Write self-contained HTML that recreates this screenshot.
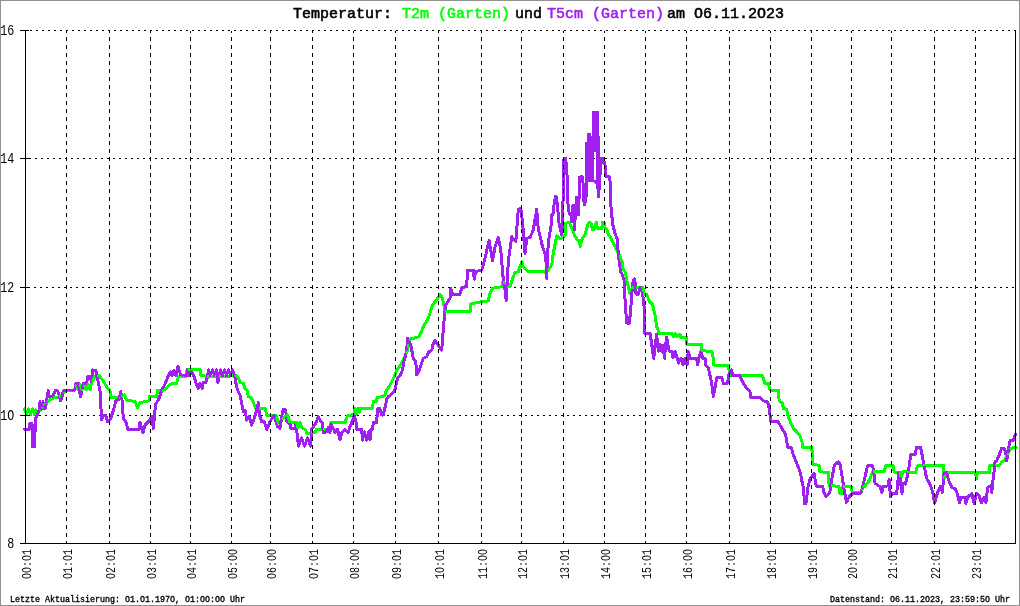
<!DOCTYPE html><html><head><meta charset="utf-8"><style>html,body{margin:0;padding:0;background:#fff;overflow:hidden}svg{display:block;will-change:transform}</style></head><body><svg width="1020" height="606" viewBox="0 0 1020 606">
<rect x="0" y="0" width="1020" height="606" fill="#fff"/>
<rect x="0.5" y="0.5" width="1019" height="605" fill="none" stroke="#919191" stroke-width="1"/>
<g shape-rendering="crispEdges">
<line x1="26" y1="30.5" x2="1015" y2="30.5" stroke="#000" stroke-width="1" stroke-dasharray="2 4" stroke-dashoffset="2"/>
<line x1="26" y1="158.5" x2="1015" y2="158.5" stroke="#000" stroke-width="1" stroke-dasharray="2 4" stroke-dashoffset="3"/>
<line x1="26" y1="287.5" x2="1015" y2="287.5" stroke="#000" stroke-width="1" stroke-dasharray="2 4" stroke-dashoffset="4"/>
<line x1="26" y1="415.5" x2="1015" y2="415.5" stroke="#000" stroke-width="1" stroke-dasharray="2 4" stroke-dashoffset="5"/>
</g>
<g fill="none" stroke-width="3" stroke-linejoin="round" stroke-linecap="round" shape-rendering="crispEdges">
<path stroke="#00ff00" d="M24.5 409L25.5 411.8L26.5 414.5"/>
<path stroke="#a020f0" d="M24.2 429.2L25.2 429.2L26.2 429.2"/>
<path stroke="#00ff00" d="M26.5 414.5L27.5 411.6L28.5 408.8"/>
<path stroke="#a020f0" d="M26.2 429.2L27.2 429.2L28.2 429.2"/>
<path stroke="#00ff00" d="M28.5 408.8L29.5 411.6L30.5 414.5"/>
<path stroke="#a020f0" d="M28.2 429.2L29.2 429.2L29.5 428.8L30 423"/>
<path stroke="#00ff00" d="M30.5 414.5L31.5 411.6L32.5 408.8"/>
<path stroke="#a020f0" d="M30 423L31 423L32 423"/>
<path stroke="#00ff00" d="M32.5 408.8L33.5 411.6L34.5 414.5"/>
<path stroke="#a020f0" d="M32 423L32.5 446.5L33.5 446.5L34.5 446.5"/>
<path stroke="#00ff00" d="M34.5 414.5L35.5 410L36.1 412.5"/>
<path stroke="#a020f0" d="M34.5 446.5L35.5 418.3L36.5 416.6"/>
<path stroke="#00ff00" d="M36.1 412.5L36.7 415L37.7 413.7L38.7 412.3"/>
<path stroke="#a020f0" d="M36.5 416.6L37.5 415L38.4 412.5"/>
<path stroke="#00ff00" d="M38.7 412.3L39.7 411L40.7 409.6"/>
<path stroke="#a020f0" d="M38.4 412.5L39.2 410L40 401.7"/>
<path stroke="#00ff00" d="M40.7 409.6L41.7 408.3L42.7 407.2"/>
<path stroke="#a020f0" d="M40 401.7L40.8 405.4L41.5 409L42.2 405.4"/>
<path stroke="#00ff00" d="M42.7 407.2L43.6 406.1L44.6 405"/>
<path stroke="#a020f0" d="M42.2 405.4L43 401.7L43.8 405L44.5 408.3"/>
<path stroke="#00ff00" d="M44.6 405L45.6 403.9L46.5 402.8"/>
<path stroke="#a020f0" d="M44.5 408.3L45.5 408L46.5 401.5"/>
<path stroke="#00ff00" d="M46.5 402.8L47.5 401.7L48.3 401.1"/>
<path stroke="#a020f0" d="M46.5 401.5L47.5 395L48.3 390.8"/>
<path stroke="#00ff00" d="M48.3 401.1L49.2 400.6L50 400"/>
<path stroke="#a020f0" d="M48.3 390.8L49.2 396.7L50 396.5"/>
<path stroke="#00ff00" d="M50 400L50.8 399.4L51.7 398.9L52.5 398.3"/>
<path stroke="#a020f0" d="M50 396.5L50.8 396.3L51.7 396.2L52.5 396"/>
<path stroke="#00ff00" d="M52.5 398.3L53.3 398L54.2 397.8"/>
<path stroke="#a020f0" d="M52.5 396L53.3 395.8L54.1 393.3"/>
<path stroke="#00ff00" d="M54.2 397.8L55 397.5L55.8 397.5L56.7 397.5"/>
<path stroke="#a020f0" d="M54.1 393.3L55 390.8L55.8 390.8L56.7 390.8"/>
<path stroke="#00ff00" d="M56.7 397.5L57.5 397.5L58.4 397.5"/>
<path stroke="#a020f0" d="M56.7 390.8L57.5 390.8L58.4 393.3"/>
<path stroke="#00ff00" d="M58.4 397.5L59.2 397.5L60 396.7"/>
<path stroke="#a020f0" d="M58.4 393.3L59.2 395.8L59.8 398.3L60.4 400.8"/>
<path stroke="#00ff00" d="M60 396.7L60.8 395.8L61.7 395L62.5 394.1"/>
<path stroke="#a020f0" d="M60.4 400.8L61 399.6L61.7 398.3L62.5 394.6"/>
<path stroke="#00ff00" d="M62.5 394.1L63.3 393.3L64.2 392.1"/>
<path stroke="#a020f0" d="M62.5 394.6L63.3 390.8L64.2 390.6"/>
<path stroke="#00ff00" d="M64.2 392.1L65 390.8L65.9 390.8L66.8 390.8"/>
<path stroke="#a020f0" d="M64.2 390.6L65 390.4L65.8 390.2L66.7 390"/>
<path stroke="#00ff00" d="M66.8 390.8L67.8 390.8L68.7 390.8"/>
<path stroke="#a020f0" d="M66.7 390L67.6 390L68.5 390"/>
<path stroke="#00ff00" d="M68.7 390.8L69.6 390.8L70.5 390.8"/>
<path stroke="#a020f0" d="M68.5 390L69.5 390L70.4 390"/>
<path stroke="#00ff00" d="M70.5 390.8L71.4 390.8L72.4 390.8"/>
<path stroke="#a020f0" d="M70.4 390L71.3 390L72.2 390"/>
<path stroke="#00ff00" d="M72.4 390.8L73.3 390.8L74.2 390.8"/>
<path stroke="#a020f0" d="M72.2 390L73.2 390L74.1 390"/>
<path stroke="#00ff00" d="M74.2 390.8L75.1 387.4L76 384"/>
<path stroke="#a020f0" d="M74.1 390L75 390L75.8 383.3L76.6 383.3"/>
<path stroke="#00ff00" d="M76 384L77 387L78 390"/>
<path stroke="#a020f0" d="M76.6 383.3L77.5 383.3L78.3 383.3"/>
<path stroke="#00ff00" d="M78 390L79 387L80 384"/>
<path stroke="#a020f0" d="M78.3 383.3L79 387.8L79.7 392.2L80.4 396.7"/>
<path stroke="#00ff00" d="M80 384L81 387L82 390"/>
<path stroke="#a020f0" d="M80.4 396.7L81.1 394.2L81.7 391.7L82.5 387.5"/>
<path stroke="#00ff00" d="M82 390L83 387L84 384"/>
<path stroke="#a020f0" d="M82.5 387.5L83.3 383.3L84.2 383.3"/>
<path stroke="#00ff00" d="M84 384L85 387L86 390"/>
<path stroke="#a020f0" d="M84.2 383.3L85 383.3L85.8 383.3L86.7 383.3"/>
<path stroke="#00ff00" d="M86 390L87 387L88 384"/>
<path stroke="#a020f0" d="M86.7 383.3L87.5 376.7L88.3 376.7"/>
<path stroke="#00ff00" d="M88 384L89 387L90 390"/>
<path stroke="#a020f0" d="M88.3 376.7L89.2 376.7L90 376.7"/>
<path stroke="#00ff00" d="M90 390L90.8 386.2L91.7 382.5L92.5 381.1"/>
<path stroke="#a020f0" d="M90 376.7L90.8 379.2L91.7 381.7L92.5 370"/>
<path stroke="#00ff00" d="M92.5 381.1L93.3 379.6L94.2 378.1"/>
<path stroke="#a020f0" d="M92.5 370L93.3 370L94.2 370"/>
<path stroke="#00ff00" d="M94.2 378.1L95 376.7L95.8 376.5L96.7 376.3"/>
<path stroke="#a020f0" d="M94.2 370L95 370L95.8 370L96.7 375.8"/>
<path stroke="#00ff00" d="M96.7 376.3L97.5 376.2L98.4 376"/>
<path stroke="#a020f0" d="M96.7 375.8L97.5 379.1L98.3 382.5"/>
<path stroke="#00ff00" d="M98.4 376L99.2 375.8L100 376.9"/>
<path stroke="#a020f0" d="M98.3 382.5L99.2 386.6L100 390.8"/>
<path stroke="#00ff00" d="M100 376.9L100.8 377.9L101.7 378.9L102.5 380"/>
<path stroke="#a020f0" d="M100 390.8L100.8 405.4L101.7 420L102.5 417.5"/>
<path stroke="#00ff00" d="M102.5 380L103.3 381.3L104.2 382.7"/>
<path stroke="#a020f0" d="M102.5 417.5L103.3 415L104.1 415"/>
<path stroke="#00ff00" d="M104.2 382.7L105 384L105.9 385.4L106.7 386.7"/>
<path stroke="#a020f0" d="M104.1 415L105 415L105.8 415L106.7 418.4"/>
<path stroke="#00ff00" d="M106.7 386.7L107.5 387.7L108.3 388.8"/>
<path stroke="#a020f0" d="M106.7 418.4L107.5 421.7L108.3 421.1"/>
<path stroke="#00ff00" d="M108.3 388.8L109.2 389.8L110 390.8"/>
<path stroke="#a020f0" d="M108.3 421.1L109.2 420.6L110 420"/>
<path stroke="#00ff00" d="M110 390.8L110.8 397.5L111.7 397.5L112.6 397.5"/>
<path stroke="#a020f0" d="M110 420L110.8 417.8L111.7 415.5L112.5 413.3"/>
<path stroke="#00ff00" d="M112.6 397.5L113.6 397.5L114.5 397.5"/>
<path stroke="#a020f0" d="M112.5 413.3L113.3 410.2L114.2 407.1"/>
<path stroke="#00ff00" d="M114.5 397.5L115.4 397.5L116.3 397.5"/>
<path stroke="#a020f0" d="M114.2 407.1L115 403.9L115.8 400.8L116.7 400.4"/>
<path stroke="#00ff00" d="M116.3 397.5L117.2 397.5L118.2 397.5"/>
<path stroke="#a020f0" d="M116.7 400.4L117.5 400L118.3 399.6"/>
<path stroke="#00ff00" d="M118.2 397.5L119.1 397.5L120 397.5"/>
<path stroke="#a020f0" d="M118.3 399.6L119.2 399.2L120 395.4"/>
<path stroke="#00ff00" d="M120 397.5L120.8 397L121.7 396.5L122.5 396"/>
<path stroke="#a020f0" d="M120 395.4L120.8 391.7L121.4 395.9L122 400"/>
<path stroke="#00ff00" d="M122.5 396L123.4 395.5L124.2 395"/>
<path stroke="#a020f0" d="M122 400L122.7 409.1L123.3 418.3L124.2 419.6"/>
<path stroke="#00ff00" d="M124.2 395L125 396.7L125.9 398.3L126.7 400"/>
<path stroke="#a020f0" d="M124.2 419.6L125 420.8L125.8 422.1L126.7 423.3"/>
<path stroke="#00ff00" d="M126.7 400L127.6 400.2L128.5 400.4"/>
<path stroke="#a020f0" d="M126.7 423.3L127.5 429.2L128.5 429.2"/>
<path stroke="#00ff00" d="M128.5 400.4L129.5 400.6L130.4 400.8"/>
<path stroke="#a020f0" d="M128.5 429.2L129.4 429.2L130.4 429.2"/>
<path stroke="#00ff00" d="M130.4 400.8L131.3 400.9L132.2 401.1"/>
<path stroke="#a020f0" d="M130.4 429.2L131.4 429.2L132.4 429.2"/>
<path stroke="#00ff00" d="M132.2 401.1L133.2 401.3L134.1 401.5"/>
<path stroke="#a020f0" d="M132.4 429.2L133.3 429.2L134.3 429.2"/>
<path stroke="#00ff00" d="M134.1 401.5L135 401.7L135.8 403.6L136.7 405.6"/>
<path stroke="#a020f0" d="M134.3 429.2L135.3 429.2L136.3 429.2"/>
<path stroke="#00ff00" d="M136.7 405.6L137.5 407.5L138.3 405.8"/>
<path stroke="#a020f0" d="M136.3 429.2L137.2 429.2L138.2 429.2"/>
<path stroke="#00ff00" d="M138.3 405.8L139.2 404.2L140 402.5"/>
<path stroke="#a020f0" d="M138.2 429.2L139.2 429.2L140 422.5"/>
<path stroke="#00ff00" d="M140 402.5L140.9 402.3L141.8 402.2L142.8 402"/>
<path stroke="#a020f0" d="M140 422.5L141 425.8L142 429.2"/>
<path stroke="#00ff00" d="M142.8 402L143.7 401.8L144.6 401.6"/>
<path stroke="#a020f0" d="M142 429.2L143 432.5L144 428.8"/>
<path stroke="#00ff00" d="M144.6 401.6L145.5 401.5L146.4 401.3"/>
<path stroke="#a020f0" d="M144 428.8L145 425L145.8 424.2L146.7 423.4"/>
<path stroke="#00ff00" d="M146.4 401.3L147.4 401.1L148.3 401"/>
<path stroke="#a020f0" d="M146.7 423.4L147.5 422.5L148.3 421.7"/>
<path stroke="#00ff00" d="M148.3 401L149.2 400.8L149.2 396.7L150.1 396.7"/>
<path stroke="#a020f0" d="M148.3 421.7L149.2 420.4L150 419.2"/>
<path stroke="#00ff00" d="M150.1 396.7L151.1 396.7L152 396.7"/>
<path stroke="#a020f0" d="M150 419.2L150.8 417.9L151.7 416.7L152.5 422.5"/>
<path stroke="#00ff00" d="M152 396.7L152.9 396.7L153.9 396.7L154.8 396.7"/>
<path stroke="#a020f0" d="M152.5 422.5L153.3 428.3L154.2 419.1"/>
<path stroke="#00ff00" d="M154.8 396.7L155.8 396.7L156.7 396.7"/>
<path stroke="#a020f0" d="M154.2 419.1L155 410L155.8 404.2L156.7 402.7"/>
<path stroke="#00ff00" d="M156.7 396.7L157.5 390L158.5 390"/>
<path stroke="#a020f0" d="M156.7 402.7L157.5 401.2L158.3 399.8"/>
<path stroke="#00ff00" d="M158.5 390L159.4 390L160.4 390"/>
<path stroke="#a020f0" d="M158.3 399.8L159.2 398.3L160 395.5"/>
<path stroke="#00ff00" d="M160.4 390L161.3 390L162.3 390"/>
<path stroke="#a020f0" d="M160 395.5L160.9 392.8L161.7 390L162.5 388.6"/>
<path stroke="#00ff00" d="M162.3 390L163.2 390L164.2 390"/>
<path stroke="#a020f0" d="M162.5 388.6L163.3 387.1L164.2 385.6"/>
<path stroke="#00ff00" d="M164.2 390L165.2 389L166.1 388.1"/>
<path stroke="#a020f0" d="M164.2 385.6L165 384.2L165.8 382L166.7 379.7"/>
<path stroke="#00ff00" d="M166.1 388.1L167.1 387.1L168.1 386.1"/>
<path stroke="#a020f0" d="M166.7 379.7L167.5 377.5L168.5 375.7"/>
<path stroke="#00ff00" d="M168.1 386.1L169 385.2L170 384.2"/>
<path stroke="#a020f0" d="M168.5 375.7L169.5 373.8L170.5 372"/>
<path stroke="#00ff00" d="M170 384.2L171 384.1L171.9 383.9L172.9 383.8"/>
<path stroke="#a020f0" d="M170.5 372L171.2 374L172 376"/>
<path stroke="#00ff00" d="M172.9 383.8L173.8 383.7L174.8 383.6"/>
<path stroke="#a020f0" d="M172 376L173 373L174 370"/>
<path stroke="#00ff00" d="M174.8 383.6L175.7 383.4L176.7 383.3"/>
<path stroke="#a020f0" d="M174 370L175 373L176 376"/>
<path stroke="#00ff00" d="M176.7 383.3L177.5 380L178.3 376.7"/>
<path stroke="#a020f0" d="M176 376L176.9 371L177.9 366L178.4 368"/>
<path stroke="#00ff00" d="M178.3 376.7L179.2 376.6L180.2 376.5"/>
<path stroke="#a020f0" d="M178.4 368L179 370L179.9 372.5L180.8 375"/>
<path stroke="#00ff00" d="M180.2 376.5L181.1 376.5L182 376.4"/>
<path stroke="#a020f0" d="M180.8 375L181.8 375.1L182.8 375.3"/>
<path stroke="#00ff00" d="M182 376.4L183 376.3L183.9 376.2L184.8 376.2"/>
<path stroke="#a020f0" d="M182.8 375.3L183.8 375.4L184.7 375.5"/>
<path stroke="#00ff00" d="M184.8 376.2L185.8 376.1L186.7 376"/>
<path stroke="#a020f0" d="M184.7 375.5L185.7 375.7L186.7 375.8"/>
<path stroke="#00ff00" d="M186.7 376L187 369.6L187.9 369.5L188.9 369.4"/>
<path stroke="#a020f0" d="M186.7 375.8L187.5 369.6L188.3 372.7"/>
<path stroke="#00ff00" d="M188.9 369.4L189.9 369.3L190.8 369.2"/>
<path stroke="#a020f0" d="M188.3 372.7L189.2 375.8L190 374.4"/>
<path stroke="#00ff00" d="M190.8 369.2L191.7 369.2L192.6 369.2"/>
<path stroke="#a020f0" d="M190 374.4L190.9 373.1L191.7 371.7L192.5 373.4"/>
<path stroke="#00ff00" d="M192.6 369.2L193.6 369.2L194.5 369.2"/>
<path stroke="#a020f0" d="M192.5 373.4L193.4 375L194.2 376.7"/>
<path stroke="#00ff00" d="M194.5 369.2L195.4 369.2L196.3 369.2"/>
<path stroke="#a020f0" d="M194.2 376.7L195 379.6L195.8 382.5L196.6 384.4"/>
<path stroke="#00ff00" d="M196.3 369.2L197.2 369.2L198.2 369.2"/>
<path stroke="#a020f0" d="M196.6 384.4L197.5 386.4L198.3 388.3"/>
<path stroke="#00ff00" d="M198.2 369.2L199.1 369.2L200 369.2"/>
<path stroke="#a020f0" d="M198.3 388.3L199.2 385.8L200 383.3"/>
<path stroke="#00ff00" d="M200 369.2L200.8 375.8L201.7 375.8L202.5 375.8"/>
<path stroke="#a020f0" d="M200 383.3L200.7 385L201.4 386.6L202.1 388.3"/>
<path stroke="#00ff00" d="M202.5 375.8L203.3 375.8L204.2 375.8"/>
<path stroke="#a020f0" d="M202.1 388.3L202.7 385.4L203.3 382.5L204.1 382.5"/>
<path stroke="#00ff00" d="M204.2 375.8L205.2 376L206.2 376.2"/>
<path stroke="#a020f0" d="M204.1 382.5L205 382.5L205.8 382.5L206.7 379.6"/>
<path stroke="#00ff00" d="M206.2 376.2L207.2 376.3L208.2 376.5"/>
<path stroke="#a020f0" d="M206.7 379.6L207.5 376.7L208.5 370"/>
<path stroke="#00ff00" d="M208.2 376.5L209.2 376.7L210.2 376.7"/>
<path stroke="#a020f0" d="M208.5 370L209.5 372.8L210.5 375.5"/>
<path stroke="#00ff00" d="M210.2 376.7L211.2 376.6L212.2 376.6"/>
<path stroke="#a020f0" d="M210.5 375.5L211.5 372.8L212.5 370"/>
<path stroke="#00ff00" d="M212.2 376.6L213.1 376.6L214.1 376.5"/>
<path stroke="#a020f0" d="M212.5 370L213.5 372.8L214.5 375.5"/>
<path stroke="#00ff00" d="M214.1 376.5L215.1 376.5L216.1 376.5"/>
<path stroke="#a020f0" d="M214.5 375.5L215.5 372.8L216.5 370"/>
<path stroke="#00ff00" d="M216.1 376.5L217.1 376.4L218.1 376.4"/>
<path stroke="#a020f0" d="M216.5 370L217.2 376.2L217.9 382.5L218.4 379"/>
<path stroke="#00ff00" d="M218.1 376.4L219.1 376.4L220 376.3"/>
<path stroke="#a020f0" d="M218.4 379L219 375.5L219.8 372.8L220.5 370"/>
<path stroke="#00ff00" d="M220 376.3L221 376.3L222 376.3"/>
<path stroke="#a020f0" d="M220.5 370L221.5 372.8L222.5 375.5"/>
<path stroke="#00ff00" d="M222 376.3L223 376.2L224 376.2L225 376.2"/>
<path stroke="#a020f0" d="M222.5 375.5L223.5 372.8L224.5 370"/>
<path stroke="#00ff00" d="M225 376.2L225.9 376.1L226.9 376.1"/>
<path stroke="#a020f0" d="M224.5 370L225.5 372.8L226.5 375.5"/>
<path stroke="#00ff00" d="M226.9 376.1L227.9 376.1L228.9 376"/>
<path stroke="#a020f0" d="M226.5 375.5L227.5 372.8L228.5 370"/>
<path stroke="#00ff00" d="M228.9 376L229.9 376L230.9 376"/>
<path stroke="#a020f0" d="M228.5 370L229.5 372.8L230.5 375.5"/>
<path stroke="#00ff00" d="M230.9 376L231.9 375.9L232.8 375.9"/>
<path stroke="#a020f0" d="M230.5 375.5L231.5 372.8L232.5 370"/>
<path stroke="#00ff00" d="M232.8 375.9L233.8 375.9L234.8 375.8"/>
<path stroke="#a020f0" d="M232.5 370L233.5 372.8L234.5 375.5"/>
<path stroke="#00ff00" d="M234.8 375.8L235.8 375.8L236.6 376.4"/>
<path stroke="#a020f0" d="M234.5 375.5L235.2 379L235.8 382.5L236.7 386.2"/>
<path stroke="#00ff00" d="M236.6 376.4L237.5 376.9L238.3 377.5"/>
<path stroke="#a020f0" d="M236.7 386.2L237.5 390L238.3 391.7"/>
<path stroke="#00ff00" d="M238.3 377.5L239.2 380L240 382.5"/>
<path stroke="#a020f0" d="M238.3 391.7L239.2 393.3L240 395"/>
<path stroke="#00ff00" d="M240 382.5L240.8 382.7L241.7 382.9L242.5 383.1"/>
<path stroke="#a020f0" d="M240 395L240.8 399.1L241.7 403.3L242.5 407.5"/>
<path stroke="#00ff00" d="M242.5 383.1L243.3 383.3L244.2 385.8"/>
<path stroke="#a020f0" d="M242.5 407.5L243.3 411.7L244.2 410.9"/>
<path stroke="#00ff00" d="M244.2 385.8L245 388.3L245.8 389.1L246.7 390"/>
<path stroke="#a020f0" d="M244.2 410.9L245 410L245.8 415L246.7 420"/>
<path stroke="#00ff00" d="M246.7 390L247.5 390.8L248.3 396.7"/>
<path stroke="#a020f0" d="M246.7 420L247.5 418.9L248.4 417.8"/>
<path stroke="#00ff00" d="M248.3 396.7L249.1 397L250 397.2L250.8 397.5"/>
<path stroke="#a020f0" d="M248.4 417.8L249.2 416.7L250 419.5"/>
<path stroke="#00ff00" d="M250.8 397.5L251.6 398.9L252.5 400.3"/>
<path stroke="#a020f0" d="M250 419.5L250.9 422.2L251.7 425L252.5 422.8"/>
<path stroke="#00ff00" d="M252.5 400.3L253.3 401.7L254.2 405"/>
<path stroke="#a020f0" d="M252.5 422.8L253.4 420.5L254.2 418.3"/>
<path stroke="#00ff00" d="M254.2 405L254.8 406.6L255.5 408.3L256.4 408.3"/>
<path stroke="#a020f0" d="M254.2 418.3L255 415.5L255.9 412.8L256.7 410"/>
<path stroke="#00ff00" d="M256.4 408.3L257.4 408.3L258.4 408.3"/>
<path stroke="#a020f0" d="M256.7 410L257.5 406.2L258.3 402.5"/>
<path stroke="#00ff00" d="M258.4 408.3L259.3 408.3L260.2 408.3"/>
<path stroke="#a020f0" d="M258.3 402.5L259.1 409.6L260 416.7"/>
<path stroke="#00ff00" d="M260.2 408.3L261.2 408.3L262.1 408.3"/>
<path stroke="#a020f0" d="M260 416.7L260.9 419.2L261.7 421.7L262.5 421.7"/>
<path stroke="#00ff00" d="M262.1 408.3L263.1 408.3L264.1 408.3"/>
<path stroke="#a020f0" d="M262.5 421.7L263.4 421.7L264.2 421.7"/>
<path stroke="#00ff00" d="M264.1 408.3L265 408.3L265.9 411.6L266.7 415"/>
<path stroke="#a020f0" d="M264.2 421.7L265 424.2L265.9 426.7L266.7 429.2"/>
<path stroke="#00ff00" d="M266.7 415L267.6 415L268.5 415"/>
<path stroke="#a020f0" d="M266.7 429.2L267.5 427.3L268.4 425.4"/>
<path stroke="#00ff00" d="M268.5 415L269.4 415L270.3 415"/>
<path stroke="#a020f0" d="M268.4 425.4L269.2 423.6L270 421.7"/>
<path stroke="#00ff00" d="M270.3 415L271.2 415L272.2 415"/>
<path stroke="#a020f0" d="M270 421.7L270.8 420.3L271.7 418.9L272.5 417.5"/>
<path stroke="#00ff00" d="M272.2 415L273.1 415L274 415L274.9 415"/>
<path stroke="#a020f0" d="M272.5 417.5L273.4 416.6L274.2 415.8"/>
<path stroke="#00ff00" d="M274.9 415L275.8 415L276.6 417.5"/>
<path stroke="#a020f0" d="M274.2 415.8L275 418.5L275.9 421.2L276.7 424"/>
<path stroke="#00ff00" d="M276.6 417.5L277.5 420L278.3 422.5"/>
<path stroke="#a020f0" d="M276.7 424L277.5 426.7L278.3 427.2"/>
<path stroke="#00ff00" d="M278.3 422.5L279.2 421.8L280.1 421"/>
<path stroke="#a020f0" d="M278.3 427.2L279.2 427.8L280 428.3"/>
<path stroke="#00ff00" d="M280.1 421L281.1 420.2L282 419.5L282.9 418.8"/>
<path stroke="#a020f0" d="M280 428.3L280.9 422.5L281.7 416.7L282.5 412.9"/>
<path stroke="#00ff00" d="M282.9 418.8L283.8 418L284.7 417.2"/>
<path stroke="#a020f0" d="M282.5 412.9L283.3 409.2L284.1 409.5"/>
<path stroke="#00ff00" d="M284.7 417.2L285.7 416.5L286.6 415.8"/>
<path stroke="#a020f0" d="M284.1 409.5L285 409.7L285.8 410L286.7 420.8"/>
<path stroke="#00ff00" d="M286.6 415.8L287.5 415L288.4 417.9"/>
<path stroke="#a020f0" d="M286.7 420.8L287.3 421.6L287.9 422.5L288.6 423.1"/>
<path stroke="#00ff00" d="M288.4 417.9L289.2 420.8L290 422.5"/>
<path stroke="#a020f0" d="M288.6 423.1L289.3 423.6L290 424.2"/>
<path stroke="#00ff00" d="M290 422.5L291 422.5L291.9 422.5L292.9 422.5"/>
<path stroke="#a020f0" d="M290 424.2L290.8 428.3L291.6 428.3L292.5 428.3"/>
<path stroke="#00ff00" d="M292.9 422.5L293.8 422.5L294.8 422.5"/>
<path stroke="#a020f0" d="M292.5 428.3L293.3 428.3L294.2 428.3"/>
<path stroke="#00ff00" d="M294.8 422.5L295.7 422.5L296.7 422.5"/>
<path stroke="#a020f0" d="M294.2 428.3L295 428.3L295.8 423.3L296.7 430.8"/>
<path stroke="#00ff00" d="M296.7 422.5L297.4 425.2L298 428"/>
<path stroke="#a020f0" d="M296.7 430.8L297.6 438.4L298.5 446"/>
<path stroke="#00ff00" d="M298 428L299 425.2L300 422.5"/>
<path stroke="#a020f0" d="M298.5 446L299.5 443.3L300.5 440.7"/>
<path stroke="#00ff00" d="M300 422.5L301 425.2L302 428"/>
<path stroke="#a020f0" d="M300.5 440.7L301.5 438L302.5 440.7"/>
<path stroke="#00ff00" d="M302 428L302.5 428.3L303.3 428.7L304.1 429.1"/>
<path stroke="#a020f0" d="M302.5 440.7L303.5 443.3L304.5 446"/>
<path stroke="#00ff00" d="M304.1 429.1L305 429.6L305.8 430L306.7 433.3"/>
<path stroke="#a020f0" d="M304.5 446L305.5 443.3L306.5 440.7"/>
<path stroke="#00ff00" d="M306.7 433.3L307.5 433.3L308.4 433.3"/>
<path stroke="#a020f0" d="M306.5 440.7L307.5 438L308.5 440.7"/>
<path stroke="#00ff00" d="M308.4 433.3L309.2 433.3L310 433.3"/>
<path stroke="#a020f0" d="M308.5 440.7L309.5 443.3L310.5 446"/>
<path stroke="#00ff00" d="M310 433.3L310.9 432.9L311.7 432.5L312.5 432.5"/>
<path stroke="#a020f0" d="M310.5 446L311.2 437.5L311.7 429.2L312.5 428"/>
<path stroke="#00ff00" d="M312.5 432.5L313.4 432.5L314.2 432.5"/>
<path stroke="#a020f0" d="M312.5 428L313.3 426.8L314.2 425.7"/>
<path stroke="#00ff00" d="M314.2 432.5L315 432.5L315.9 430.9L316.7 429.2"/>
<path stroke="#a020f0" d="M314.2 425.7L315 424.5L315.8 423.3L316.6 421.1"/>
<path stroke="#00ff00" d="M316.7 429.2L317.6 429.2L318.6 429.2"/>
<path stroke="#a020f0" d="M316.6 421.1L317.5 418.9L318.3 416.7"/>
<path stroke="#00ff00" d="M318.6 429.2L319.6 429.2L320.5 429.2"/>
<path stroke="#a020f0" d="M318.3 416.7L319.1 418.4L320 420"/>
<path stroke="#00ff00" d="M320.5 429.2L321.4 429.2L322.4 429.2"/>
<path stroke="#a020f0" d="M320 420L320.8 421.1L321.7 422.2L322.5 423.3"/>
<path stroke="#00ff00" d="M322.4 429.2L323.4 429.2L324.3 429.2"/>
<path stroke="#a020f0" d="M322.5 423.3L323.3 432.5L324.1 432.3"/>
<path stroke="#00ff00" d="M324.3 429.2L325.2 429.2L326.2 429.2"/>
<path stroke="#a020f0" d="M324.1 432.3L325 432.1L325.9 431.9L326.7 431.7"/>
<path stroke="#00ff00" d="M326.2 429.2L327.1 429.2L328.1 429.2"/>
<path stroke="#a020f0" d="M326.7 431.7L327.5 429.6L328.3 427.5"/>
<path stroke="#00ff00" d="M328.1 429.2L329.1 429.2L330 429.2"/>
<path stroke="#a020f0" d="M328.3 427.5L329.1 430L330 432.5"/>
<path stroke="#00ff00" d="M330 429.2L330.8 422.5L331.7 422.5L332.7 422.5"/>
<path stroke="#a020f0" d="M330 432.5L330.8 424.2L331.6 425.4L332.5 426.7"/>
<path stroke="#00ff00" d="M332.7 422.5L333.6 422.5L334.6 422.5"/>
<path stroke="#a020f0" d="M332.5 426.7L333.3 428.6L334.2 430.6"/>
<path stroke="#00ff00" d="M334.6 422.5L335.5 422.5L336.5 422.5"/>
<path stroke="#a020f0" d="M334.2 430.6L335 432.5L335.8 431.4L336.7 430.3"/>
<path stroke="#00ff00" d="M336.5 422.5L337.4 422.5L338.4 422.5"/>
<path stroke="#a020f0" d="M336.7 430.3L337.5 429.2L338.3 432.8"/>
<path stroke="#00ff00" d="M338.4 422.5L339.3 422.5L340.3 422.5"/>
<path stroke="#a020f0" d="M338.3 432.8L339.2 436.4L340 440"/>
<path stroke="#00ff00" d="M340.3 422.5L341.2 422.5L342.2 422.5"/>
<path stroke="#a020f0" d="M340 440L340.9 436.6L341.7 433.3L342.5 432.3"/>
<path stroke="#00ff00" d="M342.2 422.5L343.1 422.5L344.1 422.5"/>
<path stroke="#a020f0" d="M342.5 432.3L343.4 431.2L344.2 430.2"/>
<path stroke="#00ff00" d="M344.1 422.5L345 422.5L345.8 420.3L346.7 418"/>
<path stroke="#a020f0" d="M344.2 430.2L345 429.2L345.8 430L346.6 430.9"/>
<path stroke="#00ff00" d="M346.7 418L347.5 415.8L348.3 415.6"/>
<path stroke="#a020f0" d="M346.6 430.9L347.5 431.7L348.3 432.5"/>
<path stroke="#00ff00" d="M348.3 415.6L349.2 415.5L350 415.3"/>
<path stroke="#a020f0" d="M348.3 432.5L349.1 429.6L350 426.7"/>
<path stroke="#00ff00" d="M350 415.3L350.9 415.2L351.7 415L352.5 414.7"/>
<path stroke="#a020f0" d="M350 426.7L350.9 424.6L351.7 422.5L352.5 420.3"/>
<path stroke="#00ff00" d="M352.5 414.7L353.2 414.3L354 414"/>
<path stroke="#a020f0" d="M352.5 420.3L353.4 418L354.2 415.8"/>
<path stroke="#00ff00" d="M354 414L355 408L355.8 411L356.5 414"/>
<path stroke="#a020f0" d="M354.2 415.8L355 417.9L355.8 420L356.7 429.2"/>
<path stroke="#00ff00" d="M356.5 414L357.2 411L358 408"/>
<path stroke="#a020f0" d="M356.7 429.2L357.7 429.2L358.7 429.2"/>
<path stroke="#00ff00" d="M358 408L358.8 410L359.5 412L360 408.3"/>
<path stroke="#a020f0" d="M358.7 429.2L359.7 429.2L360.7 429.2"/>
<path stroke="#00ff00" d="M360 408.3L361 408.3L361.9 408.3L362.9 408.3"/>
<path stroke="#a020f0" d="M360.7 429.2L361.7 429.2L362.5 440"/>
<path stroke="#00ff00" d="M362.9 408.3L363.8 408.3L364.8 408.3"/>
<path stroke="#a020f0" d="M362.5 440L363.5 436L364.5 432"/>
<path stroke="#00ff00" d="M364.8 408.3L365.8 408.3L366.7 408.3"/>
<path stroke="#a020f0" d="M364.5 432L365.5 436L366.5 440"/>
<path stroke="#00ff00" d="M366.7 408.3L367.7 408.3L368.7 408.3"/>
<path stroke="#a020f0" d="M366.5 440L367.5 436L368.5 432"/>
<path stroke="#00ff00" d="M368.7 408.3L369.6 408.3L370.6 408.3"/>
<path stroke="#a020f0" d="M368.5 432L369.2 436L370 440"/>
<path stroke="#00ff00" d="M370.6 408.3L371.5 408.3L372.5 408.3"/>
<path stroke="#a020f0" d="M370 440L370.5 430L371.5 429.6L372.5 429.2"/>
<path stroke="#00ff00" d="M372.5 408.3L373.3 401.7L374.1 401.6"/>
<path stroke="#a020f0" d="M372.5 429.2L373.3 422.5L374.1 422.5"/>
<path stroke="#00ff00" d="M374.1 401.6L375 401.4L375.9 401.3L376.7 401.2"/>
<path stroke="#a020f0" d="M374.1 422.5L375 422.5L375.9 422.5L376.7 422.5"/>
<path stroke="#00ff00" d="M376.7 401.2L377.1 397.5L378 397.3"/>
<path stroke="#a020f0" d="M376.7 422.5L377.1 415.8L377.9 408.8L378.6 408.8"/>
<path stroke="#00ff00" d="M378 397.3L378.9 397.2L379.9 397L380.8 396.9"/>
<path stroke="#a020f0" d="M378.6 408.8L379.3 408.8L380 408.8"/>
<path stroke="#00ff00" d="M380.8 396.9L381.7 396.7L382.5 396.4"/>
<path stroke="#a020f0" d="M380 408.8L380.9 411.9L381.7 415L382.5 415"/>
<path stroke="#00ff00" d="M382.5 396.4L383.4 396L384.2 395.7"/>
<path stroke="#a020f0" d="M382.5 415L383.3 415L384.1 411.2"/>
<path stroke="#00ff00" d="M384.2 395.7L385 395.4L385.8 391.7L386.6 390.4"/>
<path stroke="#a020f0" d="M384.1 411.2L385 407.5L385.9 403.4L386.7 399.2"/>
<path stroke="#00ff00" d="M386.6 390.4L387.5 389L388.3 387.7"/>
<path stroke="#a020f0" d="M386.7 399.2L387.5 397.9L388.3 396.7"/>
<path stroke="#00ff00" d="M388.3 387.7L389.2 386.3L390 385"/>
<path stroke="#a020f0" d="M388.3 396.7L389.1 396L390 395.3L390.8 394.7"/>
<path stroke="#00ff00" d="M390 385L390.8 383.3L391.7 381.7L392.5 380"/>
<path stroke="#a020f0" d="M390.8 394.7L391.7 394L392.5 393.3"/>
<path stroke="#00ff00" d="M392.5 380L393.4 378.4L394.2 376.7"/>
<path stroke="#a020f0" d="M392.5 393.3L393.3 392.2L394.2 391.1"/>
<path stroke="#00ff00" d="M394.2 376.7L395 374.5L395.9 372.2L396.7 370"/>
<path stroke="#a020f0" d="M394.2 391.1L395 390L395.8 386.1L396.7 382.2"/>
<path stroke="#00ff00" d="M396.7 370L397.5 369L398.3 368"/>
<path stroke="#a020f0" d="M396.7 382.2L397.5 378.3L398.3 377.5"/>
<path stroke="#00ff00" d="M398.3 368L399.2 367L400 366L400.8 365"/>
<path stroke="#a020f0" d="M398.3 377.5L399.2 376.6L400 375.8"/>
<path stroke="#00ff00" d="M400.8 365L401.6 363.3L402.5 361.7"/>
<path stroke="#a020f0" d="M400 375.8L400.8 373.9L401.7 371.9L402.5 370"/>
<path stroke="#00ff00" d="M402.5 361.7L403.3 360L404.1 358.2"/>
<path stroke="#a020f0" d="M402.5 370L403.4 365L404.2 360"/>
<path stroke="#00ff00" d="M404.1 358.2L405 356.3L405.8 354.5L406.7 352.6"/>
<path stroke="#a020f0" d="M404.2 360L405 357.5L405.8 355L406.6 349.1"/>
<path stroke="#00ff00" d="M406.7 352.6L407.5 350.8L408.3 346.9"/>
<path stroke="#a020f0" d="M406.6 349.1L407.5 343.3L407.5 338.3L408.3 340"/>
<path stroke="#00ff00" d="M408.3 346.9L409.2 343.1L410 339.2"/>
<path stroke="#a020f0" d="M408.3 340L409.1 341.6L410 343.3L410.8 345"/>
<path stroke="#00ff00" d="M410 339.2L410.9 338.9L411.8 338.7L412.8 338.4"/>
<path stroke="#a020f0" d="M410.8 345L411.6 349.4L412.5 353.9"/>
<path stroke="#00ff00" d="M412.8 338.4L413.7 338.2L414.6 337.9"/>
<path stroke="#a020f0" d="M412.5 353.9L413.3 358.3L414.1 359.4"/>
<path stroke="#00ff00" d="M414.6 337.9L415.5 337.7L416.4 337.4"/>
<path stroke="#a020f0" d="M414.1 359.4L415 360.6L415.8 361.7L416.7 375"/>
<path stroke="#00ff00" d="M416.4 337.4L417.4 337.2L418.3 336.9"/>
<path stroke="#a020f0" d="M416.7 375L417.5 373.3L418.4 371.6"/>
<path stroke="#00ff00" d="M418.3 336.9L419.2 336.7L420 334.7"/>
<path stroke="#a020f0" d="M418.4 371.6L419.2 370L420 368.3"/>
<path stroke="#00ff00" d="M420 334.7L420.8 332.7L421.7 330.7L422.5 328.7"/>
<path stroke="#a020f0" d="M420 368.3L420.8 365.8L421.6 363.3L422.5 360.8"/>
<path stroke="#00ff00" d="M422.5 328.7L423.3 326.7L424.3 325"/>
<path stroke="#a020f0" d="M422.5 360.8L423.3 358.3L424.1 357.9"/>
<path stroke="#00ff00" d="M424.3 325L425.3 323.3L426.3 321.7"/>
<path stroke="#a020f0" d="M424.1 357.9L425 357.5L425.9 357.1L426.7 356.7"/>
<path stroke="#00ff00" d="M426.3 321.7L427.3 320L428.3 318.3"/>
<path stroke="#a020f0" d="M426.7 356.7L427.5 354.6L428.3 352.5"/>
<path stroke="#00ff00" d="M428.3 318.3L429.1 315.6L430 313L430.8 310.3"/>
<path stroke="#a020f0" d="M428.3 352.5L429.1 351.9L430 351.2"/>
<path stroke="#00ff00" d="M430.8 310.3L431.7 307.7L432.5 305"/>
<path stroke="#a020f0" d="M430 351.2L430.9 350.6L431.7 350L432.5 346.6"/>
<path stroke="#00ff00" d="M432.5 305L433.3 304L434.2 303"/>
<path stroke="#a020f0" d="M432.5 346.6L433.3 343.3L434.1 342.1"/>
<path stroke="#00ff00" d="M434.2 303L435 302L435.9 301L436.7 300"/>
<path stroke="#a020f0" d="M434.1 342.1L435 340.8L436 342.1L436.9 343.4"/>
<path stroke="#00ff00" d="M436.7 300L437.5 298.6L438.4 297.1"/>
<path stroke="#a020f0" d="M436.9 343.4L437.9 344.7L438.8 346.1"/>
<path stroke="#00ff00" d="M438.4 297.1L439.2 295.6L440 294.2"/>
<path stroke="#a020f0" d="M438.8 346.1L439.8 347.4L440.7 348.7"/>
<path stroke="#00ff00" d="M440 294.2L440.8 295.6L441.7 296.9L442.5 298.3"/>
<path stroke="#a020f0" d="M440.7 348.7L441.7 350L442.5 339.4"/>
<path stroke="#00ff00" d="M442.5 298.3L443.3 302.8L444.2 307.2"/>
<path stroke="#a020f0" d="M442.5 339.4L443.4 328.9L444.2 318.3"/>
<path stroke="#00ff00" d="M444.2 307.2L445 311.7L446 311.7"/>
<path stroke="#a020f0" d="M444.2 318.3L445 311.6L445.8 305L446.6 303.7"/>
<path stroke="#00ff00" d="M446 311.7L447 311.7L448 311.7"/>
<path stroke="#a020f0" d="M446.6 303.7L447.5 302.3L448.3 301"/>
<path stroke="#00ff00" d="M448 311.7L449 311.7L450 311.7"/>
<path stroke="#a020f0" d="M448.3 301L449.2 299.6L450 298.3"/>
<path stroke="#00ff00" d="M450 311.7L451 311.7L452 311.7"/>
<path stroke="#a020f0" d="M450 298.3L450.8 288.3L451.6 291.2L452.5 294.2"/>
<path stroke="#00ff00" d="M452 311.7L453 311.7L454 311.7"/>
<path stroke="#a020f0" d="M452.5 294.2L453.4 294.2L454.4 294.2"/>
<path stroke="#00ff00" d="M454 311.7L455 311.7L456 311.7"/>
<path stroke="#a020f0" d="M454.4 294.2L455.3 294.2L456.2 294.2"/>
<path stroke="#00ff00" d="M456 311.7L457 311.7L458 311.7"/>
<path stroke="#a020f0" d="M456.2 294.2L457.2 294.2L458.1 294.2"/>
<path stroke="#00ff00" d="M458 311.7L459 311.7L460 311.7"/>
<path stroke="#a020f0" d="M458.1 294.2L459.1 294.2L460 294.2"/>
<path stroke="#00ff00" d="M460 311.7L461 311.7L462 311.7"/>
<path stroke="#a020f0" d="M460 294.2L460.9 290.9L461.7 287.5L462.7 287.3"/>
<path stroke="#00ff00" d="M462 311.7L463 311.7L464 311.7"/>
<path stroke="#a020f0" d="M462.7 287.3L463.7 287.2L464.7 287"/>
<path stroke="#00ff00" d="M464 311.7L465 311.7L466 311.7"/>
<path stroke="#a020f0" d="M464.7 287L465.7 286.9L466.7 286.7"/>
<path stroke="#00ff00" d="M466 311.7L467 311.7L468 311.7"/>
<path stroke="#a020f0" d="M466.7 286.7L467.5 270L468.5 270"/>
<path stroke="#00ff00" d="M468 311.7L469 311.7L470 311.7"/>
<path stroke="#a020f0" d="M468.5 270L469.4 270L470.4 270"/>
<path stroke="#00ff00" d="M470 311.7L470 304.2L471 304L471.9 303.7L472.9 303.5"/>
<path stroke="#a020f0" d="M470.4 270L471.4 270L472.3 270"/>
<path stroke="#00ff00" d="M472.9 303.5L473.8 303.2L474.8 303"/>
<path stroke="#a020f0" d="M472.3 270L473.3 270L474.2 279.2"/>
<path stroke="#00ff00" d="M474.8 303L475.7 302.7L476.7 302.5"/>
<path stroke="#a020f0" d="M474.2 279.2L475 275.4L475.8 271.7L476.8 271.4"/>
<path stroke="#00ff00" d="M476.7 302.5L477.7 302.4L478.6 302.2"/>
<path stroke="#a020f0" d="M476.8 271.4L477.8 271.1L478.8 270.9"/>
<path stroke="#00ff00" d="M478.6 302.2L479.6 302.1L480.6 301.9"/>
<path stroke="#a020f0" d="M478.8 270.9L479.7 270.6L480.7 270.3"/>
<path stroke="#00ff00" d="M480.6 301.9L481.5 301.8L482.5 301.6"/>
<path stroke="#a020f0" d="M480.7 270.3L481.7 270L482.5 267.5"/>
<path stroke="#00ff00" d="M482.5 301.6L483.5 301.5L484.4 301.4"/>
<path stroke="#a020f0" d="M482.5 267.5L483.3 265L484.1 261.7"/>
<path stroke="#00ff00" d="M484.4 301.4L485.4 301.2L486.4 301.1"/>
<path stroke="#a020f0" d="M484.1 261.7L485 258.3L485.8 255L486.6 251.1"/>
<path stroke="#00ff00" d="M486.4 301.1L487.3 300.9L488.3 300.8"/>
<path stroke="#a020f0" d="M486.6 251.1L487.5 247.2L488.3 243.3"/>
<path stroke="#00ff00" d="M488.3 300.8L489.1 297.1L490 293.3"/>
<path stroke="#a020f0" d="M488.3 243.3L489.2 240.8L490 245.8"/>
<path stroke="#00ff00" d="M490 293.3L490.8 291.6L491.7 290L492.5 288.3"/>
<path stroke="#a020f0" d="M490 245.8L490.9 250.8L491.7 255.8L492.5 260.8"/>
<path stroke="#00ff00" d="M492.5 288.3L493.4 288.1L494.3 288"/>
<path stroke="#a020f0" d="M492.5 260.8L493.3 256.1L494.2 251.4"/>
<path stroke="#00ff00" d="M494.3 288L495.3 287.8L496.2 287.7"/>
<path stroke="#a020f0" d="M494.2 251.4L495 246.7L495.8 244.4L496.6 242.1"/>
<path stroke="#00ff00" d="M496.2 287.7L497.1 287.5L498 287.3"/>
<path stroke="#a020f0" d="M496.6 242.1L497.5 239.8L498.3 237.5"/>
<path stroke="#00ff00" d="M498 287.3L498.9 287.2L499.9 287L500.8 286.9"/>
<path stroke="#a020f0" d="M498.3 237.5L499.1 241.7L500 245.8L500.8 250"/>
<path stroke="#00ff00" d="M500.8 286.9L501.7 286.7L502.5 283.4"/>
<path stroke="#a020f0" d="M500.8 250L501.6 260L502.5 270"/>
<path stroke="#00ff00" d="M502.5 283.4L503.3 280L504.1 282.5"/>
<path stroke="#a020f0" d="M502.5 270L503.3 280L504.1 285"/>
<path stroke="#00ff00" d="M504.1 282.5L505 285L505.8 287.5L506.6 287.3"/>
<path stroke="#a020f0" d="M504.1 285L505 290L505.6 295.1L506.2 300.3"/>
<path stroke="#00ff00" d="M506.6 287.3L507.5 287.2L508.3 287"/>
<path stroke="#a020f0" d="M506.2 300.3L506.9 287.4L507.6 274.6L508.3 261.7"/>
<path stroke="#00ff00" d="M508.3 287L509.2 286.9L510 286.7"/>
<path stroke="#a020f0" d="M508.3 261.7L509.1 255.4L510 249.2"/>
<path stroke="#00ff00" d="M510 286.7L510.8 284.2L511.7 281.7L512.5 279.2"/>
<path stroke="#a020f0" d="M510 249.2L510.9 242.9L511.7 236.7L512.5 237.7"/>
<path stroke="#00ff00" d="M512.5 279.2L513.3 277L514.2 274.7"/>
<path stroke="#a020f0" d="M512.5 237.7L513.3 238.7L514.2 239.7"/>
<path stroke="#00ff00" d="M514.2 274.7L515 272.5L515.8 272.3L516.6 272.1"/>
<path stroke="#a020f0" d="M514.2 239.7L515 240.7L515.8 241.7L516.6 230.9"/>
<path stroke="#00ff00" d="M516.6 272.1L517.5 271.9L518.3 271.7"/>
<path stroke="#a020f0" d="M516.6 230.9L517.5 220L518.3 209.2"/>
<path stroke="#00ff00" d="M518.3 271.7L519.1 268.8L520 265.8"/>
<path stroke="#a020f0" d="M518.3 209.2L519.1 208.9L520 208.6L520.8 208.3"/>
<path stroke="#00ff00" d="M520 265.8L520 268.3L520.9 265L521.7 261.7L522.5 264.2"/>
<path stroke="#a020f0" d="M520.8 208.3L521.6 215L522.5 221.7"/>
<path stroke="#00ff00" d="M522.5 264.2L523.3 266.7L524.3 267.7"/>
<path stroke="#a020f0" d="M522.5 221.7L523.3 232.2L524.2 242.8"/>
<path stroke="#00ff00" d="M524.3 267.7L525.3 268.7L526.3 269.7"/>
<path stroke="#a020f0" d="M524.2 242.8L525 253.3L525.9 245.8L526.7 238.3"/>
<path stroke="#00ff00" d="M526.3 269.7L527.3 270.7L528.3 271.7"/>
<path stroke="#a020f0" d="M526.7 238.3L527.5 238.1L528.4 237.9"/>
<path stroke="#00ff00" d="M528.3 271.7L529.3 271.7L530.3 271.7"/>
<path stroke="#a020f0" d="M528.4 237.9L529.2 237.7L530 237.5"/>
<path stroke="#00ff00" d="M530.3 271.7L531.3 271.7L532.3 271.7"/>
<path stroke="#a020f0" d="M530 237.5L530.8 235.6L531.6 233.8L532.5 231.9"/>
<path stroke="#00ff00" d="M532.3 271.7L533.3 271.7L534.3 271.7"/>
<path stroke="#a020f0" d="M532.5 231.9L533.3 230L534.1 224.8"/>
<path stroke="#00ff00" d="M534.3 271.7L535.3 271.7L536.3 271.7"/>
<path stroke="#a020f0" d="M534.1 224.8L535 219.6L535.9 214.4L536.7 209.2"/>
<path stroke="#00ff00" d="M536.3 271.7L537.3 271.7L538.3 271.7"/>
<path stroke="#a020f0" d="M536.7 209.2L537.5 219.2L538.3 229.2"/>
<path stroke="#00ff00" d="M538.3 271.7L539.3 271.7L540.3 271.7"/>
<path stroke="#a020f0" d="M538.3 229.2L539.1 232.7L540 236.2"/>
<path stroke="#00ff00" d="M540.3 271.7L541.3 271.7L542.3 271.7"/>
<path stroke="#a020f0" d="M540 236.2L540.9 239.8L541.7 243.3L542.5 246"/>
<path stroke="#00ff00" d="M542.3 271.7L543.3 271.7L544.1 271.9"/>
<path stroke="#a020f0" d="M542.5 246L543.3 248.7L544.2 251.3"/>
<path stroke="#00ff00" d="M544.1 271.9L545 272.1L545.9 272.3L546.7 272.5"/>
<path stroke="#a020f0" d="M544.2 251.3L545 254L545.8 256.7L546.7 278.3"/>
<path stroke="#00ff00" d="M546.7 272.5L547.7 271L548.7 269.5"/>
<path stroke="#a020f0" d="M546.7 278.3L547.5 260L548.3 241.7"/>
<path stroke="#00ff00" d="M548.7 269.5L549.7 268L550.7 266.5"/>
<path stroke="#a020f0" d="M548.3 241.7L549.3 236.1L550.2 230.6"/>
<path stroke="#00ff00" d="M550.7 266.5L551.7 265L552.5 259.1"/>
<path stroke="#a020f0" d="M550.2 230.6L551.2 225L551.7 215L552.4 214.5"/>
<path stroke="#00ff00" d="M552.5 259.1L553.3 253.3L554.1 248.9"/>
<path stroke="#a020f0" d="M552.4 214.5L553 214L553.6 208.7L554.2 203.3"/>
<path stroke="#00ff00" d="M554.1 248.9L555 244.6L555.9 240.2L556.7 235.8"/>
<path stroke="#a020f0" d="M554.2 203.3L554.8 200L555.4 196.7L556 196.8L556.5 197"/>
<path stroke="#00ff00" d="M556.7 235.8L557.5 236.6L558.4 237.3"/>
<path stroke="#a020f0" d="M556.5 197L557.5 206.7L558.3 215"/>
<path stroke="#00ff00" d="M558.4 237.3L559.2 238.1L560 238.8"/>
<path stroke="#a020f0" d="M558.3 215L559.2 225L559.8 227.1L560.4 229.2"/>
<path stroke="#00ff00" d="M560 238.8L561 238.2L562 237.6"/>
<path stroke="#a020f0" d="M560.4 229.2L561 232.1L561.7 235L562.5 223.3"/>
<path stroke="#00ff00" d="M562 237.6L563 237L563.8 236.3L564.5 235.5"/>
<path stroke="#a020f0" d="M562.5 223.3L563.5 180L564 159"/>
<path stroke="#00ff00" d="M564.5 235.5L565.3 234.8L565.3 223.6L566.3 223.3"/>
<path stroke="#a020f0" d="M564 159L564.8 158.8L565.5 158.5L566.2 163"/>
<path stroke="#00ff00" d="M566.3 223.3L567.2 222.9L568.2 222.6"/>
<path stroke="#a020f0" d="M566.2 163L567 175L567.5 190L567.9 203.3L568.5 208.3"/>
<path stroke="#00ff00" d="M568.2 222.6L569.2 222.3L570.1 224.3"/>
<path stroke="#a020f0" d="M568.5 208.3L569.2 213.3L570 214.2"/>
<path stroke="#00ff00" d="M570.1 224.3L571 226.2L571.9 228.2L572.8 230.6"/>
<path stroke="#a020f0" d="M570 214.2L570.8 215L571.4 218.5L572 222"/>
<path stroke="#00ff00" d="M572.8 230.6L573.6 233.1L574.5 235.5"/>
<path stroke="#a020f0" d="M572 222L573 205L573.8 217.5L574.5 230"/>
<path stroke="#00ff00" d="M574.5 235.5L575.4 236.8L576.3 238.1"/>
<path stroke="#a020f0" d="M574.5 230L575.1 218.3L575.8 206.7L576.7 197.5"/>
<path stroke="#00ff00" d="M576.3 238.1L577.2 239.4L578.1 240.1"/>
<path stroke="#a020f0" d="M576.7 197.5L577.5 206.2L578.3 215"/>
<path stroke="#00ff00" d="M578.1 240.1L578.9 240.7L579.8 241.4L580.1 246.7"/>
<path stroke="#a020f0" d="M578.3 215L579 200L580 177"/>
<path stroke="#00ff00" d="M580.1 246.7L581 243.1L581.8 239.4L582.6 238.2"/>
<path stroke="#a020f0" d="M580 177L581 176.5L582 176"/>
<path stroke="#00ff00" d="M582.6 238.2L583.5 237.1L584.3 236"/>
<path stroke="#a020f0" d="M582 176L583 183L583.6 194L584.2 205"/>
<path stroke="#00ff00" d="M584.3 236L585.1 234.8L585.8 232.2L586.4 229.5"/>
<path stroke="#a020f0" d="M584.2 205L585 202.5L585.8 200L586.4 190"/>
<path stroke="#00ff00" d="M586.4 229.5L587.4 226.2L588.4 222.9"/>
<path stroke="#a020f0" d="M586.4 190L587 180L588 180"/>
<path stroke="#00ff00" d="M588.4 222.9L589.3 222.9L590.1 222.9"/>
<path stroke="#a020f0" d="M588 180L589 180L590 180"/>
<path stroke="#00ff00" d="M590.1 222.9L591 222.9L591.6 226.2L592.3 229.5"/>
<path stroke="#a020f0" d="M590 180L591 180L592 180"/>
<path stroke="#00ff00" d="M592.3 229.5L593.1 229.5L594 229.5"/>
<path stroke="#a020f0" d="M592 180L593 180.5L593.9 181L594.9 181.5"/>
<path stroke="#00ff00" d="M594 229.5L594.8 227.1L595.5 224.7L596.3 222.3"/>
<path stroke="#a020f0" d="M594.9 181.5L595.8 182L596.8 182.5"/>
<path stroke="#00ff00" d="M596.3 222.3L596.9 225.3L597.5 228.3L598.3 228.3"/>
<path stroke="#a020f0" d="M596.8 182.5L597.7 183L598.5 197"/>
<path stroke="#00ff00" d="M598.3 228.3L599.2 228.3L600 228.3"/>
<path stroke="#a020f0" d="M598.5 197L599.4 184.5L600.2 172"/>
<path stroke="#00ff00" d="M600 228.3L600.9 228.3L601.7 228.3L602.5 222.5"/>
<path stroke="#a020f0" d="M600.2 172L600.9 165.2L601.5 158.5L602.5 158.5"/>
<path stroke="#00ff00" d="M602.5 222.5L603.2 222.5L604 222.5"/>
<path stroke="#a020f0" d="M602.5 158.5L603.5 158.5L604.2 161.8"/>
<path stroke="#00ff00" d="M604 222.5L605 228.3L605.9 228.8L606.7 229.2"/>
<path stroke="#a020f0" d="M604.2 161.8L605 165L606 176.5"/>
<path stroke="#00ff00" d="M606.7 229.2L607.5 231.7L608.3 234.2"/>
<path stroke="#a020f0" d="M606 176.5L607 176.5L608 176.5"/>
<path stroke="#00ff00" d="M608.3 234.2L609.1 235.6L610 236.9L610.8 238.3"/>
<path stroke="#a020f0" d="M608 176.5L609 176.5L609.8 179.8L610.5 183"/>
<path stroke="#00ff00" d="M610.8 238.3L611.6 240L612.5 241.6"/>
<path stroke="#a020f0" d="M610.5 183L610.8 205L611.7 215L612.3 220"/>
<path stroke="#00ff00" d="M612.5 241.6L613.3 243.3L614.1 245"/>
<path stroke="#a020f0" d="M612.3 220L612.9 225L613.6 227.8L614.3 230.5"/>
<path stroke="#00ff00" d="M614.1 245L615 246.7L615.9 248.3L616.7 250"/>
<path stroke="#a020f0" d="M614.3 230.5L615 233.3L615.8 235.5L616.7 237.8"/>
<path stroke="#00ff00" d="M616.7 250L617.5 251.5L618.4 253"/>
<path stroke="#a020f0" d="M616.7 237.8L617.5 240L618 250"/>
<path stroke="#00ff00" d="M618.4 253L619.2 254.5L620 256"/>
<path stroke="#a020f0" d="M618 250L618.6 256L619.2 262L620 267"/>
<path stroke="#00ff00" d="M620 256L620.7 258L621.4 260L622.1 262"/>
<path stroke="#a020f0" d="M620 267L620.8 272L621.4 273L622 274"/>
<path stroke="#00ff00" d="M622.1 262L622.9 268.7L623.6 269.8L624.3 270.9"/>
<path stroke="#a020f0" d="M622 274L622.7 276.1L623.5 278.2L624.2 280.3"/>
<path stroke="#00ff00" d="M624.3 270.9L625 272L625.9 275.8L626.7 279.5"/>
<path stroke="#a020f0" d="M624.2 280.3L624.6 293.7L625.2 301.9L625.8 310L626.5 323"/>
<path stroke="#00ff00" d="M626.7 279.5L627.5 283.2L628.3 287"/>
<path stroke="#a020f0" d="M626.5 323L627.5 323L628.5 323"/>
<path stroke="#00ff00" d="M628.3 287L629.1 290.4L630 293.7"/>
<path stroke="#a020f0" d="M628.5 323L629.5 323L630.2 314"/>
<path stroke="#00ff00" d="M630 293.7L631 290.9L632 288"/>
<path stroke="#a020f0" d="M630.2 314L631 305L631.7 297L632.5 283.7"/>
<path stroke="#00ff00" d="M632 288L633 287.8L634 287.6"/>
<path stroke="#a020f0" d="M632.5 283.7L633.4 281.4L634.2 279"/>
<path stroke="#00ff00" d="M634 287.6L635 287.4L636 287.4L637 287.4"/>
<path stroke="#a020f0" d="M634.2 279L634.8 281L635.3 283L635.8 293.7L636.6 294"/>
<path stroke="#00ff00" d="M637 287.4L638 287.4L639 287.4"/>
<path stroke="#a020f0" d="M636.6 294L637.5 294.2L638.3 294.5"/>
<path stroke="#00ff00" d="M639 287.4L639.9 287.4L640.9 287.4"/>
<path stroke="#a020f0" d="M638.3 294.5L639.1 291.1L640 287.8"/>
<path stroke="#00ff00" d="M640.9 287.4L641.9 287.4L642.9 287.4"/>
<path stroke="#a020f0" d="M640 287.8L640.9 287.8L641.7 287.8L642.5 293.6"/>
<path stroke="#00ff00" d="M642.9 287.4L643.5 290.9L644.2 294.5"/>
<path stroke="#a020f0" d="M642.5 293.6L643.3 299.5L644 305.8L644.6 312"/>
<path stroke="#00ff00" d="M644.2 294.5L645 294.5L645.9 294.5L646.7 294.5"/>
<path stroke="#a020f0" d="M644.6 312L644.6 333.3L645.5 333.3L646.4 333.3"/>
<path stroke="#00ff00" d="M646.7 294.5L647.5 296.7L648.4 299"/>
<path stroke="#a020f0" d="M646.4 333.3L647.3 333.3L648.2 333.3"/>
<path stroke="#00ff00" d="M648.4 299L649.2 301.2L650 302"/>
<path stroke="#a020f0" d="M648.2 333.3L649.1 333.3L650 333.3"/>
<path stroke="#00ff00" d="M650 302L650.9 302.9L651.7 303.7L652.5 304.5"/>
<path stroke="#a020f0" d="M650 333.3L650.9 338.8L651.7 344.2L652.5 351"/>
<path stroke="#00ff00" d="M652.5 304.5L653.4 308.2L654.2 312"/>
<path stroke="#a020f0" d="M652.5 351L653.1 354.6L653.8 358.3L654.4 351.6"/>
<path stroke="#00ff00" d="M654.2 312L655 315.1L655.8 318.3L655.8 320L656.7 326.7"/>
<path stroke="#a020f0" d="M654.4 351.6L655 345L655.9 339.5L656.7 334"/>
<path stroke="#00ff00" d="M656.7 326.7L657.5 328.9L658.4 331.1"/>
<path stroke="#a020f0" d="M656.7 334L657.5 344L658.5 351"/>
<path stroke="#00ff00" d="M658.4 331.1L659.2 333.3L660.2 333.3"/>
<path stroke="#a020f0" d="M658.5 351L659.2 347.8L660 344.5"/>
<path stroke="#00ff00" d="M660.2 333.3L661.1 333.3L662.1 333.3"/>
<path stroke="#a020f0" d="M660 344.5L660.8 347.8L661.5 351L662.2 348"/>
<path stroke="#00ff00" d="M662.1 333.3L663 333.3L664 333.3"/>
<path stroke="#a020f0" d="M662.2 348L663 345L663.8 351.6L664.6 358.3"/>
<path stroke="#00ff00" d="M664 333.3L665 333.3L665.9 333.3L666.9 333.3"/>
<path stroke="#a020f0" d="M664.6 358.3L665.5 345L666.1 341"/>
<path stroke="#00ff00" d="M666.9 333.3L667.9 333.3L668.8 333.3"/>
<path stroke="#a020f0" d="M666.1 341L666.7 337L667.4 341L668 345"/>
<path stroke="#00ff00" d="M668.8 333.3L669.8 333.3L670.7 333.3"/>
<path stroke="#a020f0" d="M668 345L668.6 348L669.2 351L670.1 351"/>
<path stroke="#00ff00" d="M670.7 333.3L671.7 333.3L672.5 335"/>
<path stroke="#a020f0" d="M670.1 351L671.1 351L672 351"/>
<path stroke="#00ff00" d="M672.5 335L673.3 336.7L674.1 335.1"/>
<path stroke="#a020f0" d="M672 351L673 357.5L674 354.2"/>
<path stroke="#00ff00" d="M674.1 335.1L675 333.5L676 335"/>
<path stroke="#a020f0" d="M674 354.2L675 351L676 354.2"/>
<path stroke="#00ff00" d="M676 335L677 336.5L678 335.7"/>
<path stroke="#a020f0" d="M676 354.2L677 357.5L677.8 360.2L678.5 363"/>
<path stroke="#00ff00" d="M678 335.7L679 335L680 334.2"/>
<path stroke="#a020f0" d="M678.5 363L679.3 361.3L680.2 359.7"/>
<path stroke="#00ff00" d="M680 334.2L680.8 337.1L681.8 337.2L682.8 337.2"/>
<path stroke="#a020f0" d="M680.2 359.7L681 358L682 361.5"/>
<path stroke="#00ff00" d="M682.8 337.2L683.8 337.3L684.7 337.4"/>
<path stroke="#a020f0" d="M682 361.5L683 365L684 361.5"/>
<path stroke="#00ff00" d="M684.7 337.4L685.7 337.4L686.7 337.5"/>
<path stroke="#a020f0" d="M684 361.5L685 358L686 361.5"/>
<path stroke="#00ff00" d="M686.7 337.5L686.7 344.2L687.7 344.2L688.7 344.2"/>
<path stroke="#a020f0" d="M686 361.5L687 365L687.6 358.4L688.3 351.7"/>
<path stroke="#00ff00" d="M688.7 344.2L689.7 344.2L690.7 344.2"/>
<path stroke="#a020f0" d="M688.3 351.7L689.1 355L690 358.3"/>
<path stroke="#00ff00" d="M690.7 344.2L691.7 344.2L692.7 344.2"/>
<path stroke="#a020f0" d="M690 358.3L691 358.3L691.9 358.3L692.9 358.3"/>
<path stroke="#00ff00" d="M692.7 344.2L693.7 344.2L694.7 344.2"/>
<path stroke="#a020f0" d="M692.9 358.3L693.8 358.3L694.8 358.3"/>
<path stroke="#00ff00" d="M694.7 344.2L695.7 344.2L696.7 344.2"/>
<path stroke="#a020f0" d="M694.8 358.3L695.7 358.3L696.7 358.3"/>
<path stroke="#00ff00" d="M696.7 344.2L697.7 344.2L698.7 344.2"/>
<path stroke="#a020f0" d="M696.7 358.3L697.5 365L698.2 361.5"/>
<path stroke="#00ff00" d="M698.7 344.2L699.7 344.2L700.7 344.2"/>
<path stroke="#a020f0" d="M698.2 361.5L699 358L699.9 354.9L700.8 351.7"/>
<path stroke="#00ff00" d="M700.7 344.2L701.7 344.2L702.1 350.8"/>
<path stroke="#a020f0" d="M700.8 351.7L701.5 353.9L702.3 356.1"/>
<path stroke="#00ff00" d="M702.1 350.8L703.1 350.8L704 350.9"/>
<path stroke="#a020f0" d="M702.3 356.1L703 358.3L704 358.3"/>
<path stroke="#00ff00" d="M704 350.9L705 350.9L705.9 351L706.9 351"/>
<path stroke="#a020f0" d="M704 358.3L705 358.3L705.8 365L706.6 366.1"/>
<path stroke="#00ff00" d="M706.9 351L707.9 351L708.8 351.1"/>
<path stroke="#a020f0" d="M706.6 366.1L707.5 367.2L708.3 368.3"/>
<path stroke="#00ff00" d="M708.8 351.1L709.8 351.1L710.7 351.2"/>
<path stroke="#a020f0" d="M708.3 368.3L709.2 371.7L710 375.6"/>
<path stroke="#00ff00" d="M710.7 351.2L711.7 351.2L712.5 354.8"/>
<path stroke="#a020f0" d="M710 375.6L710.9 379.4L711.7 383.3L712.5 390"/>
<path stroke="#00ff00" d="M712.5 354.8L713.3 358.3L713.8 365L714.7 365"/>
<path stroke="#a020f0" d="M712.5 390L713.3 396.7L714.1 392.2"/>
<path stroke="#00ff00" d="M714.7 365L715.7 365L716.6 365"/>
<path stroke="#a020f0" d="M714.1 392.2L715 387.8L715.8 383.3L716.7 377.5"/>
<path stroke="#00ff00" d="M716.6 365L717.5 365L718.5 365"/>
<path stroke="#a020f0" d="M716.7 377.5L717.7 377.5L718.7 377.5"/>
<path stroke="#00ff00" d="M718.5 365L719.4 365L720.3 365"/>
<path stroke="#a020f0" d="M718.7 377.5L719.7 377.5L720.7 377.5"/>
<path stroke="#00ff00" d="M720.3 365L721.3 365L722.2 365"/>
<path stroke="#a020f0" d="M720.7 377.5L721.7 377.5L722.5 380.4"/>
<path stroke="#00ff00" d="M722.2 365L723.1 365L724.1 365"/>
<path stroke="#a020f0" d="M722.5 380.4L723.3 383.3L724.1 383.3"/>
<path stroke="#00ff00" d="M724.1 365L725 365L725.8 365L726.6 365"/>
<path stroke="#a020f0" d="M724.1 383.3L725 383.3L725.8 383.3L726.7 383.3"/>
<path stroke="#00ff00" d="M726.6 365L727.5 365L728.3 365"/>
<path stroke="#a020f0" d="M726.7 383.3L727.5 383.3L728.4 378.3"/>
<path stroke="#00ff00" d="M728.3 365L729.1 370L730 375"/>
<path stroke="#a020f0" d="M728.4 378.3L729.2 373.3L730 372.2"/>
<path stroke="#00ff00" d="M730 375L731 375.1L732 375.1L732.9 375.2"/>
<path stroke="#a020f0" d="M730 372.2L730.9 371.1L731.7 370L732.5 375.8"/>
<path stroke="#00ff00" d="M732.9 375.2L733.9 375.3L734.9 375.4"/>
<path stroke="#a020f0" d="M732.5 375.8L733.4 375.8L734.4 375.8"/>
<path stroke="#00ff00" d="M734.9 375.4L735.9 375.4L736.9 375.5"/>
<path stroke="#a020f0" d="M734.4 375.8L735.3 375.8L736.2 375.8"/>
<path stroke="#00ff00" d="M736.9 375.5L737.9 375.6L738.8 375.7"/>
<path stroke="#a020f0" d="M736.2 375.8L737.2 375.8L738.1 375.8"/>
<path stroke="#00ff00" d="M738.8 375.7L739.8 375.7L740.8 375.8"/>
<path stroke="#a020f0" d="M738.1 375.8L739.1 375.8L740 375.8"/>
<path stroke="#00ff00" d="M740.8 375.8L741.8 375.8L742.8 375.8"/>
<path stroke="#a020f0" d="M740 375.8L740.8 377.7L741.6 379.6L742.5 381.4"/>
<path stroke="#00ff00" d="M742.8 375.8L743.8 375.8L744.7 375.8"/>
<path stroke="#a020f0" d="M742.5 381.4L743.3 383.3L744.1 384.6"/>
<path stroke="#00ff00" d="M744.7 375.8L745.7 375.8L746.7 375.8"/>
<path stroke="#a020f0" d="M744.1 384.6L745 385.8L745.9 387.1L746.7 388.3"/>
<path stroke="#00ff00" d="M746.7 375.8L747.7 375.8L748.7 375.8"/>
<path stroke="#a020f0" d="M746.7 388.3L747.5 389.1L748.4 390"/>
<path stroke="#00ff00" d="M748.7 375.8L749.7 375.8L750.7 375.8"/>
<path stroke="#a020f0" d="M748.4 390L749.2 390.9L750 391.7"/>
<path stroke="#00ff00" d="M750.7 375.8L751.6 375.8L752.6 375.8"/>
<path stroke="#a020f0" d="M750 391.7L750.8 397.5L751.7 397.5L752.6 397.5"/>
<path stroke="#00ff00" d="M752.6 375.8L753.6 375.8L754.6 375.8"/>
<path stroke="#a020f0" d="M752.6 397.5L753.6 397.5L754.5 397.5"/>
<path stroke="#00ff00" d="M754.6 375.8L755.6 375.8L756.6 375.8"/>
<path stroke="#a020f0" d="M754.5 397.5L755.4 397.5L756.3 397.5"/>
<path stroke="#00ff00" d="M756.6 375.8L757.6 375.8L758.6 375.8"/>
<path stroke="#a020f0" d="M756.3 397.5L757.2 397.5L758.2 397.5"/>
<path stroke="#00ff00" d="M758.6 375.8L759.5 375.8L760.5 375.8"/>
<path stroke="#a020f0" d="M758.2 397.5L759.1 397.5L760 397.5"/>
<path stroke="#00ff00" d="M760.5 375.8L761.5 375.8L762.5 375.8"/>
<path stroke="#a020f0" d="M760 397.5L760.8 398.3L761.6 399.1L762.5 400"/>
<path stroke="#00ff00" d="M762.5 375.8L763.3 378.3L764.2 380.8"/>
<path stroke="#a020f0" d="M762.5 400L763.3 400.8L764.1 401"/>
<path stroke="#00ff00" d="M764.2 380.8L765 383.3L765.8 383.3L766.6 383.3"/>
<path stroke="#a020f0" d="M764.1 401L765 401.2L765.8 401.3L766.7 401.5"/>
<path stroke="#00ff00" d="M766.6 383.3L767.5 383.3L768.3 383.3"/>
<path stroke="#a020f0" d="M766.7 401.5L767.5 401.7L768.4 405"/>
<path stroke="#00ff00" d="M768.3 383.3L769.1 386.6L770 390"/>
<path stroke="#a020f0" d="M768.4 405L769.2 408.3L770 415"/>
<path stroke="#00ff00" d="M770 390L770.9 390L771.8 390L772.8 390"/>
<path stroke="#a020f0" d="M770 415L770.8 421.7L771.7 421.7L772.7 421.7"/>
<path stroke="#00ff00" d="M772.8 390L773.7 390L774.6 390"/>
<path stroke="#a020f0" d="M772.7 421.7L773.6 421.7L774.5 421.7"/>
<path stroke="#00ff00" d="M774.6 390L775.5 390L776.5 390"/>
<path stroke="#a020f0" d="M774.5 421.7L775.5 421.7L776.4 421.7"/>
<path stroke="#00ff00" d="M776.5 390L777.4 390L778.3 390"/>
<path stroke="#a020f0" d="M776.4 421.7L777.4 421.7L778.3 421.7"/>
<path stroke="#00ff00" d="M778.3 390L779.2 400.8L780 401.4"/>
<path stroke="#a020f0" d="M778.3 421.7L779.1 423.4L780 425"/>
<path stroke="#00ff00" d="M780 401.4L780.9 402.1L781.7 402.7L782.5 403.3"/>
<path stroke="#a020f0" d="M780 425L780.9 426.6L781.7 428.3L782.5 429.6"/>
<path stroke="#00ff00" d="M782.5 403.3L783.3 408.3L784.1 408.5"/>
<path stroke="#a020f0" d="M782.5 429.6L783.4 430.8L784.2 432.1"/>
<path stroke="#00ff00" d="M784.1 408.5L785 408.8L785.9 409L786.7 409.2"/>
<path stroke="#a020f0" d="M784.2 432.1L785 433.3L785.9 436.6L786.7 440"/>
<path stroke="#00ff00" d="M786.7 409.2L787.5 412.9L788.3 416.7"/>
<path stroke="#a020f0" d="M786.7 440L787.5 447L788.5 447.2"/>
<path stroke="#00ff00" d="M788.3 416.7L789.1 418.9L790 421.1L790.8 423.3"/>
<path stroke="#a020f0" d="M788.5 447.2L789.5 447.5L790.5 447.8"/>
<path stroke="#00ff00" d="M790.8 423.3L791.6 425L792.5 426.6"/>
<path stroke="#a020f0" d="M790.5 447.8L791.5 448L792.4 451.5"/>
<path stroke="#00ff00" d="M792.5 426.6L793.3 428.3L794.1 429.1"/>
<path stroke="#a020f0" d="M792.4 451.5L793.3 455L794.3 457.3"/>
<path stroke="#00ff00" d="M794.1 429.1L795 430L795.9 430.9L796.7 431.7"/>
<path stroke="#a020f0" d="M794.3 457.3L795.2 459.7L796.2 462"/>
<path stroke="#00ff00" d="M796.7 431.7L797.5 432.7L798.4 433.8"/>
<path stroke="#a020f0" d="M796.2 462L797.2 464.6L798.2 467.1"/>
<path stroke="#00ff00" d="M798.4 433.8L799.2 434.8L800 435.8"/>
<path stroke="#a020f0" d="M798.2 467.1L799.2 469.7L800.2 472.3"/>
<path stroke="#00ff00" d="M800 435.8L801 438.8L802 441.7"/>
<path stroke="#a020f0" d="M800.2 472.3L801 476.2L801.7 480L802.5 483.9"/>
<path stroke="#00ff00" d="M802 441.7L802 447L803 447L804 447L804.9 447"/>
<path stroke="#a020f0" d="M802.5 483.9L803.5 488.5L804.5 503.5"/>
<path stroke="#00ff00" d="M804.9 447L805.9 447L806.9 447"/>
<path stroke="#a020f0" d="M804.5 503.5L805.2 503.5L806 503.5"/>
<path stroke="#00ff00" d="M806.9 447L807.9 447L808.9 447"/>
<path stroke="#a020f0" d="M806 503.5L806.9 496L807.7 488.5L808.5 485.4"/>
<path stroke="#00ff00" d="M808.9 447L809.8 447L810.8 447"/>
<path stroke="#a020f0" d="M808.5 485.4L809.2 482.4L810 479.3"/>
<path stroke="#00ff00" d="M810.8 447L811.8 447L812.3 455.6"/>
<path stroke="#a020f0" d="M810 479.3L811 477.9L812 476.4"/>
<path stroke="#00ff00" d="M812.3 455.6L812.9 464.2L813.8 464.4L814.7 464.5"/>
<path stroke="#a020f0" d="M812 476.4L813 474.9L814 473.5"/>
<path stroke="#00ff00" d="M814.7 464.5L815.6 464.7L816.6 464.9"/>
<path stroke="#a020f0" d="M814 473.5L814.9 478.7L815.8 483.9L816.4 485"/>
<path stroke="#00ff00" d="M816.6 464.9L817.5 465.1L818.4 465.2"/>
<path stroke="#a020f0" d="M816.4 485L817 486.2L818 486.2L818.9 486.2"/>
<path stroke="#00ff00" d="M818.4 465.2L819.3 465.4L819.8 471.8L820.8 471.9"/>
<path stroke="#a020f0" d="M818.9 486.2L819.9 486.2L820.8 486.2"/>
<path stroke="#00ff00" d="M820.8 471.9L821.7 471.9L822.7 472"/>
<path stroke="#a020f0" d="M820.8 486.2L821.8 486.2L822.7 486.2"/>
<path stroke="#00ff00" d="M822.7 472L823.7 472L824.6 472.1"/>
<path stroke="#a020f0" d="M822.7 486.2L823.3 489.1L823.9 492L824.7 493.5"/>
<path stroke="#00ff00" d="M824.6 472.1L825.6 472.1L826.6 472.2"/>
<path stroke="#a020f0" d="M824.7 493.5L825.4 495.1L826.2 496.6"/>
<path stroke="#00ff00" d="M826.6 472.2L827.5 472.2L828.5 472.3"/>
<path stroke="#a020f0" d="M826.2 496.6L827.1 495.7L828 494.9L828.8 494"/>
<path stroke="#00ff00" d="M828.5 472.3L829.1 485.6L830.1 485.7"/>
<path stroke="#a020f0" d="M828.8 494L829.7 493.1L830.5 488.1"/>
<path stroke="#00ff00" d="M830.1 485.7L831.1 485.7L832 485.8"/>
<path stroke="#a020f0" d="M830.5 488.1L831.2 483L832 478"/>
<path stroke="#00ff00" d="M832 485.8L833 485.8L834 485.9"/>
<path stroke="#a020f0" d="M832 478L832.8 473.8L833.5 469.6L834.3 465.4"/>
<path stroke="#00ff00" d="M834 485.9L835 486L836 486L836.9 486.1"/>
<path stroke="#a020f0" d="M834.3 465.4L835.3 464.5L836.3 463.6"/>
<path stroke="#00ff00" d="M836.9 486.1L837.9 486.1L838.9 486.2"/>
<path stroke="#a020f0" d="M836.3 463.6L837.3 462.8L838.3 461.9"/>
<path stroke="#00ff00" d="M838.9 486.2L839.5 493.1L840.4 493.1"/>
<path stroke="#a020f0" d="M838.3 461.9L839.1 463L840 464.2"/>
<path stroke="#00ff00" d="M840.4 493.1L841.2 493.1L842 493.1"/>
<path stroke="#a020f0" d="M840 464.2L840.8 468.8L841.6 473.4L842.4 478"/>
<path stroke="#00ff00" d="M842 493.1L842.9 493.1L843 486.2L844 486.2"/>
<path stroke="#a020f0" d="M842.4 478L843.2 483.9L844.1 489.7"/>
<path stroke="#00ff00" d="M844 486.2L845 486.2L846 486.2"/>
<path stroke="#a020f0" d="M844.1 489.7L844.9 493.9L845.6 498.2L846.4 502.4"/>
<path stroke="#00ff00" d="M846 486.2L847 486.2L848 486.2"/>
<path stroke="#a020f0" d="M846.4 502.4L847.4 500.5L848.3 498.5"/>
<path stroke="#00ff00" d="M848 486.2L849 486.2L850 486.2"/>
<path stroke="#a020f0" d="M848.3 498.5L849.3 496.6L850.1 495.7"/>
<path stroke="#00ff00" d="M850 486.2L851 486.2L851.6 489.1L852.2 492"/>
<path stroke="#a020f0" d="M850.1 495.7L851 494.9L851.9 494L852.7 493.1"/>
<path stroke="#00ff00" d="M852.2 492L853.2 492.1L854.1 492.2"/>
<path stroke="#a020f0" d="M852.7 493.1L853.6 493.1L854.5 493.1"/>
<path stroke="#00ff00" d="M854.1 492.2L855.1 492.4L856 492.5"/>
<path stroke="#a020f0" d="M854.5 493.1L855.4 493.1L856.3 493.1"/>
<path stroke="#00ff00" d="M856 492.5L857 492.6L857.9 492.7L858.9 492.9"/>
<path stroke="#a020f0" d="M856.3 493.1L857.2 493.1L858.1 493.1"/>
<path stroke="#00ff00" d="M858.9 492.9L859.8 493L860.8 493.1"/>
<path stroke="#a020f0" d="M858.1 493.1L859 493.1L859.9 493.1L860.8 493.1"/>
<path stroke="#00ff00" d="M860.8 493.1L861.6 491.2L862.3 489.2"/>
<path stroke="#a020f0" d="M860.8 493.1L861.6 490.4L862.3 487.7"/>
<path stroke="#00ff00" d="M862.3 489.2L863.1 487.3L864 486.8"/>
<path stroke="#a020f0" d="M862.3 487.7L863.1 485L864 481"/>
<path stroke="#00ff00" d="M864 486.8L865 486.2L866 484.9"/>
<path stroke="#a020f0" d="M864 481L865 477L865.8 473.3L866.7 469.5"/>
<path stroke="#00ff00" d="M866 484.9L867 483.6L868 482.3"/>
<path stroke="#a020f0" d="M866.7 469.5L867.5 465.8L868.5 465.8"/>
<path stroke="#00ff00" d="M868 482.3L869 481L869.9 478.7L870.8 476.4"/>
<path stroke="#a020f0" d="M868.5 465.8L869.5 465.8L870.5 465.8"/>
<path stroke="#00ff00" d="M870.8 476.4L871.6 474L872.5 471.7"/>
<path stroke="#a020f0" d="M870.5 465.8L871.5 465.8L872.5 465.8"/>
<path stroke="#00ff00" d="M872.5 471.7L873.5 471.7L874.4 471.7"/>
<path stroke="#a020f0" d="M872.5 465.8L873.1 468.8L873.8 471.7L874.4 477.5"/>
<path stroke="#00ff00" d="M874.4 471.7L875.4 471.7L876.3 471.7"/>
<path stroke="#a020f0" d="M874.4 477.5L875 483.3L876 484"/>
<path stroke="#00ff00" d="M876.3 471.7L877.3 471.7L878.2 471.7"/>
<path stroke="#a020f0" d="M876 484L877 484.7L878 485.3"/>
<path stroke="#00ff00" d="M878.2 471.7L879.2 471.7L880.2 471.7"/>
<path stroke="#a020f0" d="M878 485.3L879 486L880 486.7"/>
<path stroke="#00ff00" d="M880.2 471.7L881.1 471.7L882.1 471.7"/>
<path stroke="#a020f0" d="M880 486.7L880.9 489.6L881.7 492.5L882.5 489.6"/>
<path stroke="#00ff00" d="M882.1 471.7L883 471.7L884 471.7"/>
<path stroke="#a020f0" d="M882.5 489.6L883.3 486.7L884.3 486.5"/>
<path stroke="#00ff00" d="M884 471.7L885 468.5L886 465.4"/>
<path stroke="#a020f0" d="M884.3 486.5L885.3 486.3L886.3 486.2"/>
<path stroke="#00ff00" d="M886 465.4L886.9 465.4L887.8 465.4L888.7 465.4"/>
<path stroke="#a020f0" d="M886.3 486.2L887.3 486L888.3 485.8"/>
<path stroke="#00ff00" d="M888.7 465.4L889.6 465.4L890.6 465.4"/>
<path stroke="#a020f0" d="M888.3 485.8L889.2 479.2L889.8 487.9L890.4 496.7"/>
<path stroke="#00ff00" d="M890.6 465.4L891.5 465.4L892.4 465.4"/>
<path stroke="#a020f0" d="M890.4 496.7L891.1 495.6L891.8 494.4L892.5 493.3"/>
<path stroke="#00ff00" d="M892.4 465.4L893.3 465.4L894.2 472"/>
<path stroke="#a020f0" d="M892.5 493.3L893.3 493.3L894.2 493.3"/>
<path stroke="#00ff00" d="M894.2 472L895.2 472L896.1 472"/>
<path stroke="#a020f0" d="M894.2 493.3L895 493.3L895.9 493.3L896.7 493.3"/>
<path stroke="#00ff00" d="M896.1 472L897.1 472L898.1 472"/>
<path stroke="#a020f0" d="M896.7 493.3L897.4 486.4L898.1 479.4"/>
<path stroke="#00ff00" d="M898.1 472L899 472L900 472"/>
<path stroke="#a020f0" d="M898.1 479.4L898.8 472.5L899.4 475.2L900 478"/>
<path stroke="#00ff00" d="M900 472L901 478L902 474.9"/>
<path stroke="#a020f0" d="M900 478L901 485.6L902 493.3"/>
<path stroke="#00ff00" d="M902 474.9L903 471.7L904 471.8L904.9 471.8"/>
<path stroke="#a020f0" d="M902 493.3L902.6 488.3L903.3 483.3L904.3 483.7"/>
<path stroke="#00ff00" d="M904.9 471.8L905.9 471.9L906.8 471.9"/>
<path stroke="#a020f0" d="M904.3 483.7L905.3 484.1L906.2 480.6"/>
<path stroke="#00ff00" d="M906.8 471.9L907.8 472L908.8 472.1"/>
<path stroke="#a020f0" d="M906.2 480.6L907.1 477.1L907.9 473.2L908.6 469.2"/>
<path stroke="#00ff00" d="M908.8 472.1L909.7 472.1L910.7 472.2"/>
<path stroke="#a020f0" d="M908.6 469.2L909.4 465.3L910 460"/>
<path stroke="#00ff00" d="M910.7 472.2L911.7 472.3L912.6 472.3"/>
<path stroke="#a020f0" d="M910 460L910.6 454.7L911.5 454.6L912.5 454.5"/>
<path stroke="#00ff00" d="M912.6 472.3L913.6 472.4L914.5 472.4"/>
<path stroke="#a020f0" d="M912.5 454.5L913.4 454.3L914.4 454.2"/>
<path stroke="#00ff00" d="M914.5 472.4L915.5 472.5L916.3 470.1"/>
<path stroke="#a020f0" d="M914.4 454.2L915.3 454.1L915.9 450.9L916.5 447.6"/>
<path stroke="#00ff00" d="M916.3 470.1L917 467.7L917.8 465.3L918.8 465.3"/>
<path stroke="#a020f0" d="M916.5 447.6L917.3 447.6L918.1 447.6"/>
<path stroke="#00ff00" d="M918.8 465.3L919.8 465.3L920.8 465.3"/>
<path stroke="#a020f0" d="M918.1 447.6L919 447.6L919.8 447.6L920.6 447.6"/>
<path stroke="#00ff00" d="M920.8 465.3L921.8 465.3L922.7 465.3"/>
<path stroke="#a020f0" d="M920.6 447.6L921.6 452.4L922.5 457.2"/>
<path stroke="#00ff00" d="M922.7 465.3L923.7 465.3L924.7 465.3"/>
<path stroke="#a020f0" d="M922.5 457.2L923.5 462L924.5 467.4"/>
<path stroke="#00ff00" d="M924.7 465.3L925.7 465.3L926.7 465.3"/>
<path stroke="#a020f0" d="M924.5 467.4L925.5 472.8L926.5 478.2"/>
<path stroke="#00ff00" d="M926.7 465.3L927.7 465.3L928.7 465.3"/>
<path stroke="#a020f0" d="M926.5 478.2L927.4 479.7L928.2 481.1"/>
<path stroke="#00ff00" d="M928.7 465.3L929.7 465.3L930.6 465.3"/>
<path stroke="#a020f0" d="M928.2 481.1L929.1 482.6L930 484.1"/>
<path stroke="#00ff00" d="M930.6 465.3L931.6 465.3L932.6 465.3"/>
<path stroke="#a020f0" d="M930 484.1L930.8 486.5L931.6 488.8L932.4 491.2"/>
<path stroke="#00ff00" d="M932.6 465.3L933.6 465.3L934.6 465.3"/>
<path stroke="#a020f0" d="M932.4 491.2L933.2 495.1L933.9 499L934.7 502.9"/>
<path stroke="#00ff00" d="M934.6 465.3L935.6 465.3L936.6 465.3"/>
<path stroke="#a020f0" d="M934.7 502.9L935.7 499.4L936.6 495.9"/>
<path stroke="#00ff00" d="M936.6 465.3L937.6 465.3L938.6 465.3"/>
<path stroke="#a020f0" d="M936.6 495.9L937.6 492.4L938.6 490.4"/>
<path stroke="#00ff00" d="M938.6 465.3L939.5 465.3L940.5 465.3"/>
<path stroke="#a020f0" d="M938.6 490.4L939.6 488.5L940.6 486.5"/>
<path stroke="#00ff00" d="M940.5 465.3L941.5 465.3L942.5 465.3"/>
<path stroke="#a020f0" d="M940.6 486.5L941.5 489.4L942.4 492.4"/>
<path stroke="#00ff00" d="M942.5 465.3L943.5 465.3L944.1 478"/>
<path stroke="#a020f0" d="M942.4 492.4L943.2 482.9L944.1 473.5"/>
<path stroke="#00ff00" d="M944.1 478L945 476.1L945.9 474.3L946.8 472.4"/>
<path stroke="#a020f0" d="M944.1 473.5L944.9 473.1L945.7 472.8L946.5 472.4"/>
<path stroke="#00ff00" d="M946.8 472.4L947.8 472.4L948.8 472.4"/>
<path stroke="#a020f0" d="M946.5 472.4L947.3 475.1L948 477.9"/>
<path stroke="#00ff00" d="M948.8 472.4L949.7 472.4L950.7 472.4"/>
<path stroke="#a020f0" d="M948 477.9L948.8 480.6L949.8 482.9L950.8 485.3"/>
<path stroke="#00ff00" d="M950.7 472.4L951.7 472.4L952.7 472.4"/>
<path stroke="#a020f0" d="M950.8 485.3L951.8 487.6L952.7 487.9"/>
<path stroke="#00ff00" d="M952.7 472.4L953.7 472.4L954.7 472.4"/>
<path stroke="#a020f0" d="M952.7 487.9L953.5 488.2L954.4 488.5"/>
<path stroke="#00ff00" d="M954.7 472.4L955.6 472.4L956.6 472.4"/>
<path stroke="#a020f0" d="M954.4 488.5L955.3 488.8L956.1 490.8"/>
<path stroke="#00ff00" d="M956.6 472.4L957.6 472.4L958.6 472.4"/>
<path stroke="#a020f0" d="M956.1 490.8L956.8 492.7L957.6 494.7L958.5 498.8"/>
<path stroke="#00ff00" d="M958.6 472.4L959.6 472.4L960.6 472.4"/>
<path stroke="#a020f0" d="M958.5 498.8L959.4 502.9L960.3 500"/>
<path stroke="#00ff00" d="M960.6 472.4L961.5 472.4L962.5 472.4"/>
<path stroke="#a020f0" d="M960.3 500L961.2 497.1L962 497.1"/>
<path stroke="#00ff00" d="M962.5 472.4L963.5 472.4L964.5 472.4"/>
<path stroke="#a020f0" d="M962 497.1L962.8 497.1L963.7 497.1L964.5 497.1"/>
<path stroke="#00ff00" d="M964.5 472.4L965.5 472.4L966.5 472.4"/>
<path stroke="#a020f0" d="M964.5 497.1L965.3 497.1L965.9 503.5L966.6 501.3"/>
<path stroke="#00ff00" d="M966.5 472.4L967.4 472.4L968.4 472.4"/>
<path stroke="#a020f0" d="M966.6 501.3L967.3 499.2L968 497"/>
<path stroke="#00ff00" d="M968.4 472.4L969.4 472.4L970.4 472.4"/>
<path stroke="#a020f0" d="M968 497L969 496.1L969.9 495.2L970.8 494.4"/>
<path stroke="#00ff00" d="M970.4 472.4L971.4 472.4L972.4 472.4"/>
<path stroke="#a020f0" d="M970.8 494.4L971.8 493.5L972.6 496.8"/>
<path stroke="#00ff00" d="M972.4 472.4L973.3 472.4L974.3 472.4"/>
<path stroke="#a020f0" d="M972.6 496.8L973.3 500.2L974.1 503.5"/>
<path stroke="#00ff00" d="M974.3 472.4L975.3 472.4L975.9 475.4L976.5 478.5"/>
<path stroke="#a020f0" d="M974.1 503.5L974.9 500.2L975.7 496.8L976.5 493.5"/>
<path stroke="#00ff00" d="M976.5 478.5L977 475.4L977.6 472.4L978.6 472.4"/>
<path stroke="#a020f0" d="M976.5 493.5L977.3 494L978.2 494.5"/>
<path stroke="#00ff00" d="M978.6 472.4L979.6 472.4L980.6 472.4"/>
<path stroke="#a020f0" d="M978.2 494.5L979 495L979.7 497.6L980.5 500.3"/>
<path stroke="#00ff00" d="M980.6 472.4L981.6 472.4L982.6 472.4"/>
<path stroke="#a020f0" d="M980.5 500.3L981.2 502.9L982.2 501"/>
<path stroke="#00ff00" d="M982.6 472.4L983.5 472.4L984.5 472.4"/>
<path stroke="#a020f0" d="M982.2 501L983.1 499L984.1 497.1"/>
<path stroke="#00ff00" d="M984.5 472.4L985.5 472.4L986.5 472.4"/>
<path stroke="#a020f0" d="M984.1 497.1L985 500L985.9 502.9L986.8 495.2"/>
<path stroke="#00ff00" d="M986.5 472.4L987.5 472.4L988.5 472.4"/>
<path stroke="#a020f0" d="M986.8 495.2L987.6 487.6L988.5 487"/>
<path stroke="#00ff00" d="M988.5 472.4L989.5 472.4L990 465"/>
<path stroke="#a020f0" d="M988.5 487L989.4 486.5L990.3 485.9"/>
<path stroke="#00ff00" d="M990 465L991 465L992 465"/>
<path stroke="#a020f0" d="M990.3 485.9L991.2 485.3L991.8 492.4L992.3 486.5"/>
<path stroke="#00ff00" d="M992 465L993 465L994 465"/>
<path stroke="#a020f0" d="M992.3 486.5L992.9 480.6L993.7 474.3L994.5 468"/>
<path stroke="#00ff00" d="M994 465L995 465L996 465"/>
<path stroke="#a020f0" d="M994.5 468L995 461.7L995.9 461.2L996.7 460.8"/>
<path stroke="#00ff00" d="M996 465L997 465L998 465"/>
<path stroke="#a020f0" d="M996.7 460.8L997.5 458.9L998.4 456.9"/>
<path stroke="#00ff00" d="M998 465L999 465L1000 465"/>
<path stroke="#a020f0" d="M998.4 456.9L999.2 455L1000 452.8"/>
<path stroke="#00ff00" d="M1000 465L1000.9 463.4L1001.7 461.7L1002.5 461.4"/>
<path stroke="#a020f0" d="M1000 452.8L1000.9 450.5L1001.7 448.3L1002.5 448.3"/>
<path stroke="#00ff00" d="M1002.5 461.4L1003.4 461.1L1004.2 460.8"/>
<path stroke="#a020f0" d="M1002.5 448.3L1003.4 448.3L1004.2 448.3"/>
<path stroke="#00ff00" d="M1004.2 460.8L1005.1 458.9L1006 457"/>
<path stroke="#a020f0" d="M1004.2 448.3L1005 450.4L1005.8 452.5L1006.7 460.8"/>
<path stroke="#00ff00" d="M1006 457L1006.8 455.8L1007.5 454.5L1008.3 453.3"/>
<path stroke="#a020f0" d="M1006.7 460.8L1007.4 456.4L1008 452"/>
<path stroke="#00ff00" d="M1008.3 453.3L1009.1 451.6L1010 450L1010.8 448.3"/>
<path stroke="#a020f0" d="M1008 452L1009 446.4L1010 440.8"/>
<path stroke="#00ff00" d="M1010.8 448.3L1011.7 448.2L1012.6 448"/>
<path stroke="#a020f0" d="M1010 440.8L1010.8 440.7L1011.6 440.6L1012.5 440.5"/>
<path stroke="#00ff00" d="M1012.6 448L1013.5 447.9L1014.4 447.8"/>
<path stroke="#a020f0" d="M1012.5 440.5L1013.3 440.4L1014 438.3"/>
<path stroke="#00ff00" d="M1014.4 447.8L1015.3 447.6L1016.2 447.5"/>
<path stroke="#a020f0" d="M1014 438.3L1014.7 436.3L1015.4 434.2"/>
<polygon fill="#a020f0" points="585.3,183 585.3,141.5 586.5,141.5 586.5,132.5 590.5,132.5 590.5,136.2 591.7,136.2 591.7,110.7 598.6,110.7 598.6,136.2 599.6,136.2 599.6,183.5 596,183.5 596,152 593.8,152 593.8,181.5"/>
</g>
<g shape-rendering="crispEdges" fill="#000">
<line x1="66.5" y1="31" x2="66.5" y2="543" stroke="#000" stroke-width="1" stroke-dasharray="4 4" stroke-dashoffset="2"/>
<line x1="109.5" y1="31" x2="109.5" y2="543" stroke="#000" stroke-width="1" stroke-dasharray="4 4" stroke-dashoffset="2"/>
<line x1="150.5" y1="31" x2="150.5" y2="543" stroke="#000" stroke-width="1" stroke-dasharray="4 4" stroke-dashoffset="2"/>
<line x1="190.5" y1="31" x2="190.5" y2="543" stroke="#000" stroke-width="1" stroke-dasharray="4 4" stroke-dashoffset="2"/>
<line x1="231.5" y1="31" x2="231.5" y2="543" stroke="#000" stroke-width="1" stroke-dasharray="4 4" stroke-dashoffset="2"/>
<line x1="270.5" y1="31" x2="270.5" y2="543" stroke="#000" stroke-width="1" stroke-dasharray="4 4" stroke-dashoffset="2"/>
<line x1="312.5" y1="31" x2="312.5" y2="543" stroke="#000" stroke-width="1" stroke-dasharray="4 4" stroke-dashoffset="2"/>
<line x1="353.5" y1="31" x2="353.5" y2="543" stroke="#000" stroke-width="1" stroke-dasharray="4 4" stroke-dashoffset="2"/>
<line x1="395.5" y1="31" x2="395.5" y2="543" stroke="#000" stroke-width="1" stroke-dasharray="4 4" stroke-dashoffset="2"/>
<line x1="438.5" y1="31" x2="438.5" y2="543" stroke="#000" stroke-width="1" stroke-dasharray="4 4" stroke-dashoffset="2"/>
<line x1="481.5" y1="31" x2="481.5" y2="543" stroke="#000" stroke-width="1" stroke-dasharray="4 4" stroke-dashoffset="2"/>
<line x1="521.5" y1="31" x2="521.5" y2="543" stroke="#000" stroke-width="1" stroke-dasharray="4 4" stroke-dashoffset="2"/>
<line x1="563.5" y1="31" x2="563.5" y2="543" stroke="#000" stroke-width="1" stroke-dasharray="4 4" stroke-dashoffset="2"/>
<line x1="604.5" y1="31" x2="604.5" y2="543" stroke="#000" stroke-width="1" stroke-dasharray="4 4" stroke-dashoffset="2"/>
<line x1="645.5" y1="31" x2="645.5" y2="543" stroke="#000" stroke-width="1" stroke-dasharray="4 4" stroke-dashoffset="2"/>
<line x1="686.5" y1="31" x2="686.5" y2="543" stroke="#000" stroke-width="1" stroke-dasharray="4 4" stroke-dashoffset="2"/>
<line x1="729.5" y1="31" x2="729.5" y2="543" stroke="#000" stroke-width="1" stroke-dasharray="4 4" stroke-dashoffset="2"/>
<line x1="770.5" y1="31" x2="770.5" y2="543" stroke="#000" stroke-width="1" stroke-dasharray="4 4" stroke-dashoffset="2"/>
<line x1="811.5" y1="31" x2="811.5" y2="543" stroke="#000" stroke-width="1" stroke-dasharray="4 4" stroke-dashoffset="2"/>
<line x1="851.5" y1="31" x2="851.5" y2="543" stroke="#000" stroke-width="1" stroke-dasharray="4 4" stroke-dashoffset="2"/>
<line x1="891.5" y1="31" x2="891.5" y2="543" stroke="#000" stroke-width="1" stroke-dasharray="4 4" stroke-dashoffset="2"/>
<line x1="934.5" y1="31" x2="934.5" y2="543" stroke="#000" stroke-width="1" stroke-dasharray="4 4" stroke-dashoffset="2"/>
<line x1="975.5" y1="31" x2="975.5" y2="543" stroke="#000" stroke-width="1" stroke-dasharray="4 4" stroke-dashoffset="2"/>
<rect x="25" y="30" width="1" height="514"/>
<rect x="25" y="543" width="991" height="1"/>
<rect x="1015" y="30" width="1" height="514"/>
<rect x="20" y="30" width="9" height="1"/>
<rect x="20" y="158" width="11" height="1"/>
<rect x="20" y="287" width="10" height="1"/>
<rect x="20" y="415" width="10" height="1"/>
<rect x="20" y="543" width="6" height="1"/>
</g>
<text x="0.3000000000000007" y="35" font-family="Liberation Mono" font-size="15" textLength="14" lengthAdjust="spacingAndGlyphs">16</text>
<text x="0.3000000000000007" y="163" font-family="Liberation Mono" font-size="15" textLength="14" lengthAdjust="spacingAndGlyphs">14</text>
<text x="0.3000000000000007" y="292" font-family="Liberation Mono" font-size="15" textLength="14" lengthAdjust="spacingAndGlyphs">12</text>
<text x="0.3000000000000007" y="420" font-family="Liberation Mono" font-size="15" textLength="14" lengthAdjust="spacingAndGlyphs">1O</text>
<text x="7.300000000000001" y="548" font-family="Liberation Mono" font-size="15" textLength="7" lengthAdjust="spacingAndGlyphs">8</text>
<text transform="translate(30.5,579) rotate(-90)" x="0" y="0" font-family="Liberation Mono" font-size="12" textLength="30" lengthAdjust="spacingAndGlyphs">OO:O1</text>
<text transform="translate(71.5,579) rotate(-90)" x="0" y="0" font-family="Liberation Mono" font-size="12" textLength="30" lengthAdjust="spacingAndGlyphs">O1:O1</text>
<text transform="translate(114.5,579) rotate(-90)" x="0" y="0" font-family="Liberation Mono" font-size="12" textLength="30" lengthAdjust="spacingAndGlyphs">O2:O1</text>
<text transform="translate(155.5,579) rotate(-90)" x="0" y="0" font-family="Liberation Mono" font-size="12" textLength="30" lengthAdjust="spacingAndGlyphs">O3:O1</text>
<text transform="translate(195.5,579) rotate(-90)" x="0" y="0" font-family="Liberation Mono" font-size="12" textLength="30" lengthAdjust="spacingAndGlyphs">O4:O1</text>
<text transform="translate(236.5,579) rotate(-90)" x="0" y="0" font-family="Liberation Mono" font-size="12" textLength="30" lengthAdjust="spacingAndGlyphs">O5:OO</text>
<text transform="translate(275.5,579) rotate(-90)" x="0" y="0" font-family="Liberation Mono" font-size="12" textLength="30" lengthAdjust="spacingAndGlyphs">O6:OO</text>
<text transform="translate(317.5,579) rotate(-90)" x="0" y="0" font-family="Liberation Mono" font-size="12" textLength="30" lengthAdjust="spacingAndGlyphs">O7:O1</text>
<text transform="translate(358.5,579) rotate(-90)" x="0" y="0" font-family="Liberation Mono" font-size="12" textLength="30" lengthAdjust="spacingAndGlyphs">O8:OO</text>
<text transform="translate(400.5,579) rotate(-90)" x="0" y="0" font-family="Liberation Mono" font-size="12" textLength="30" lengthAdjust="spacingAndGlyphs">O9:O1</text>
<text transform="translate(443.5,579) rotate(-90)" x="0" y="0" font-family="Liberation Mono" font-size="12" textLength="30" lengthAdjust="spacingAndGlyphs">1O:O1</text>
<text transform="translate(486.5,579) rotate(-90)" x="0" y="0" font-family="Liberation Mono" font-size="12" textLength="30" lengthAdjust="spacingAndGlyphs">11:OO</text>
<text transform="translate(526.5,579) rotate(-90)" x="0" y="0" font-family="Liberation Mono" font-size="12" textLength="30" lengthAdjust="spacingAndGlyphs">12:O1</text>
<text transform="translate(568.5,579) rotate(-90)" x="0" y="0" font-family="Liberation Mono" font-size="12" textLength="30" lengthAdjust="spacingAndGlyphs">13:O1</text>
<text transform="translate(609.5,579) rotate(-90)" x="0" y="0" font-family="Liberation Mono" font-size="12" textLength="30" lengthAdjust="spacingAndGlyphs">14:OO</text>
<text transform="translate(650.5,579) rotate(-90)" x="0" y="0" font-family="Liberation Mono" font-size="12" textLength="30" lengthAdjust="spacingAndGlyphs">15:O1</text>
<text transform="translate(691.5,579) rotate(-90)" x="0" y="0" font-family="Liberation Mono" font-size="12" textLength="30" lengthAdjust="spacingAndGlyphs">16:OO</text>
<text transform="translate(734.5,579) rotate(-90)" x="0" y="0" font-family="Liberation Mono" font-size="12" textLength="30" lengthAdjust="spacingAndGlyphs">17:O1</text>
<text transform="translate(775.5,579) rotate(-90)" x="0" y="0" font-family="Liberation Mono" font-size="12" textLength="30" lengthAdjust="spacingAndGlyphs">18:O1</text>
<text transform="translate(816.5,579) rotate(-90)" x="0" y="0" font-family="Liberation Mono" font-size="12" textLength="30" lengthAdjust="spacingAndGlyphs">19:O1</text>
<text transform="translate(856.5,579) rotate(-90)" x="0" y="0" font-family="Liberation Mono" font-size="12" textLength="30" lengthAdjust="spacingAndGlyphs">2O:OO</text>
<text transform="translate(896.5,579) rotate(-90)" x="0" y="0" font-family="Liberation Mono" font-size="12" textLength="30" lengthAdjust="spacingAndGlyphs">21:O1</text>
<text transform="translate(939.5,579) rotate(-90)" x="0" y="0" font-family="Liberation Mono" font-size="12" textLength="30" lengthAdjust="spacingAndGlyphs">22:O1</text>
<text transform="translate(980.5,579) rotate(-90)" x="0" y="0" font-family="Liberation Mono" font-size="12" textLength="30" lengthAdjust="spacingAndGlyphs">23:O1</text>
<g font-family="Liberation Mono" font-size="15" stroke-width="0.55">
<text x="293" y="18" textLength="99" lengthAdjust="spacingAndGlyphs" fill="#000" stroke="#000">Temperatur:</text>
<text x="402" y="18" textLength="108" lengthAdjust="spacingAndGlyphs" fill="#00ff00" stroke="#00ff00">T2m (Garten)</text>
<text x="515" y="18" textLength="27" lengthAdjust="spacingAndGlyphs" fill="#000" stroke="#000">und</text>
<text x="547" y="18" textLength="117" lengthAdjust="spacingAndGlyphs" fill="#a020f0" stroke="#a020f0">T5cm (Garten)</text>
<text x="667" y="18" textLength="117" lengthAdjust="spacingAndGlyphs" fill="#000" stroke="#000">am O6.11.2O23</text>
</g>
<text x="10" y="602" font-family="Liberation Mono" font-size="9" stroke="#000" stroke-width="0.35" textLength="235" lengthAdjust="spacingAndGlyphs">Letzte Aktualisierung: O1.O1.197O, O1:OO:OO Uhr</text>
<text x="830" y="602" font-family="Liberation Mono" font-size="9" stroke="#000" stroke-width="0.35" textLength="180" lengthAdjust="spacingAndGlyphs">Datenstand: O6.11.2O23, 23:59:5O Uhr</text>
</svg></body></html>
